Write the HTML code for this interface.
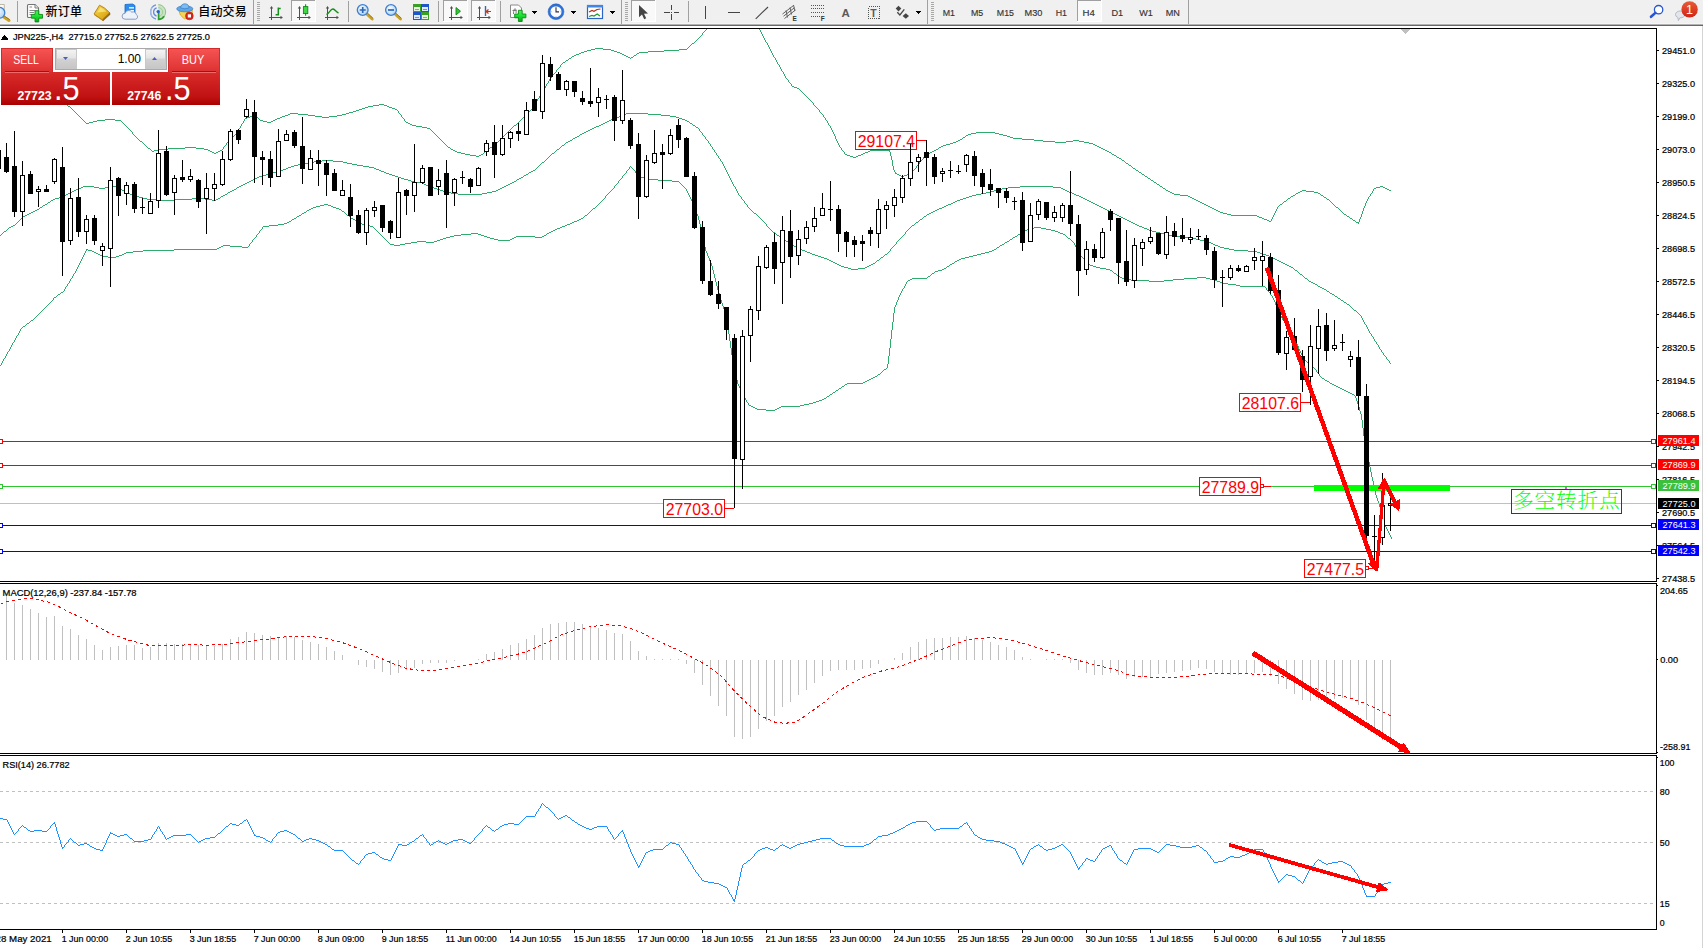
<!DOCTYPE html>
<html><head><meta charset="utf-8"><title>JPN225 H4</title>
<style>
html,body{margin:0;padding:0;background:#fff;}
body{width:1703px;height:948px;overflow:hidden;position:relative;}
svg{position:absolute;left:0;top:0;display:block;}
text{font-family:"Liberation Sans","Noto Sans CJK SC",sans-serif;}
.s{font-size:9.33px;fill:#000;stroke:#000;stroke-width:0.22px;}
.tf{font-size:9.6px;fill:#333;stroke:#333;stroke-width:0.15px;}
.cj{font-family:"Liberation Sans","Noto Sans CJK SC",sans-serif;font-size:12px;fill:#000;font-weight:500;}
.lb{font-size:15.7px;fill:#f00;}
.tag{font-size:9.33px;fill:#fff;}
.crisp{shape-rendering:crispEdges;}
</style></head><body>
<svg width="1703" height="948" viewBox="0 0 1703 948">
<defs>
<linearGradient id="gb1" x1="0" y1="0" x2="0" y2="1"><stop offset="0" stop-color="#f65454"/><stop offset="1" stop-color="#dd3030"/></linearGradient>
<linearGradient id="gb2" x1="0" y1="0" x2="0" y2="1"><stop offset="0" stop-color="#da2b2b"/><stop offset="0.75" stop-color="#c01212"/><stop offset="1" stop-color="#ab0000"/></linearGradient>
<linearGradient id="gsp" x1="0" y1="0" x2="0" y2="1"><stop offset="0" stop-color="#f4f4f4"/><stop offset="0.45" stop-color="#e4e4e4"/><stop offset="0.5" stop-color="#d2d2d2"/><stop offset="1" stop-color="#c6c6c6"/></linearGradient>
<linearGradient id="gbadge" x1="0" y1="0" x2="0" y2="1"><stop offset="0" stop-color="#ea5a36"/><stop offset="1" stop-color="#d02416"/></linearGradient>
<linearGradient id="ggold" x1="0" y1="0" x2="1" y2="1"><stop offset="0" stop-color="#f6d348"/><stop offset="0.6" stop-color="#e3b422"/><stop offset="1" stop-color="#c28e0e"/></linearGradient>
<linearGradient id="gplus" x1="0" y1="0" x2="0" y2="1"><stop offset="0" stop-color="#52f05a"/><stop offset="0.5" stop-color="#16e030"/><stop offset="1" stop-color="#0aa81a"/></linearGradient>
<radialGradient id="glens" cx="0.4" cy="0.35" r="0.7"><stop offset="0" stop-color="#f4fbff"/><stop offset="1" stop-color="#a9d2f3"/></radialGradient>
<clipPath id="cpm"><rect x="0" y="29" width="1656" height="552"/></clipPath>
<clipPath id="cpmacd"><rect x="0" y="584" width="1656" height="170"/></clipPath>
<clipPath id="cprsi"><rect x="0" y="756" width="1656" height="173"/></clipPath>
</defs>
<rect x="0" y="0" width="1703" height="948" fill="#fff"/>

<g class="crisp">
<rect x="0" y="0" width="1703" height="23" fill="#f0f0f0"/>
<rect x="0" y="23" width="1703" height="1" fill="#f5f5f5"/>
<rect x="0" y="24" width="1703" height="1" fill="#b2b2b2"/>
<rect x="0" y="25" width="1703" height="1" fill="#686868"/>
<rect x="0" y="28" width="1657" height="1" fill="#000"/>
<rect x="1656" y="28" width="1" height="902" fill="#000"/>
<rect x="0" y="581" width="1657" height="1" fill="#000"/>
<rect x="0" y="583" width="1657" height="1" fill="#000"/>
<rect x="0" y="753" width="1657" height="1" fill="#000"/>
<rect x="0" y="755" width="1657" height="1" fill="#000"/>
<rect x="0" y="929" width="1657" height="1" fill="#000"/>
<rect x="1702" y="26" width="1" height="922" fill="#d4d4d4"/>
<rect x="1656" y="582" width="1" height="1" fill="#fff"/><rect x="1656" y="754" width="1" height="1" fill="#fff"/>
</g>
<g class="crisp">
<rect x="1657" y="50" width="2" height="1" fill="#000"/>
<rect x="1657" y="83" width="2" height="1" fill="#000"/>
<rect x="1657" y="116" width="2" height="1" fill="#000"/>
<rect x="1657" y="149" width="2" height="1" fill="#000"/>
<rect x="1657" y="182" width="2" height="1" fill="#000"/>
<rect x="1657" y="215" width="2" height="1" fill="#000"/>
<rect x="1657" y="248" width="2" height="1" fill="#000"/>
<rect x="1657" y="281" width="2" height="1" fill="#000"/>
<rect x="1657" y="314" width="2" height="1" fill="#000"/>
<rect x="1657" y="347" width="2" height="1" fill="#000"/>
<rect x="1657" y="380" width="2" height="1" fill="#000"/>
<rect x="1657" y="413" width="2" height="1" fill="#000"/>
<rect x="1657" y="446" width="2" height="1" fill="#000"/>
<rect x="1657" y="479" width="2" height="1" fill="#000"/>
<rect x="1657" y="512" width="2" height="1" fill="#000"/>
<rect x="1657" y="545" width="2" height="1" fill="#000"/>
<rect x="1657" y="578" width="2" height="1" fill="#000"/>
</g>
<text class="s" x="1662" y="53.6" textLength="33" lengthAdjust="spacingAndGlyphs">29451.0</text>
<text class="s" x="1662" y="86.6" textLength="33" lengthAdjust="spacingAndGlyphs">29325.0</text>
<text class="s" x="1662" y="119.6" textLength="33" lengthAdjust="spacingAndGlyphs">29199.0</text>
<text class="s" x="1662" y="152.6" textLength="33" lengthAdjust="spacingAndGlyphs">29073.0</text>
<text class="s" x="1662" y="185.6" textLength="33" lengthAdjust="spacingAndGlyphs">28950.5</text>
<text class="s" x="1662" y="218.6" textLength="33" lengthAdjust="spacingAndGlyphs">28824.5</text>
<text class="s" x="1662" y="251.6" textLength="33" lengthAdjust="spacingAndGlyphs">28698.5</text>
<text class="s" x="1662" y="284.6" textLength="33" lengthAdjust="spacingAndGlyphs">28572.5</text>
<text class="s" x="1662" y="317.6" textLength="33" lengthAdjust="spacingAndGlyphs">28446.5</text>
<text class="s" x="1662" y="350.6" textLength="33" lengthAdjust="spacingAndGlyphs">28320.5</text>
<text class="s" x="1662" y="383.6" textLength="33" lengthAdjust="spacingAndGlyphs">28194.5</text>
<text class="s" x="1662" y="416.6" textLength="33" lengthAdjust="spacingAndGlyphs">28068.5</text>
<text class="s" x="1662" y="449.6" textLength="33" lengthAdjust="spacingAndGlyphs">27942.5</text>
<text class="s" x="1662" y="482.6" textLength="33" lengthAdjust="spacingAndGlyphs">27816.5</text>
<text class="s" x="1662" y="515.6" textLength="33" lengthAdjust="spacingAndGlyphs">27690.5</text>
<text class="s" x="1662" y="548.6" textLength="33" lengthAdjust="spacingAndGlyphs">27564.5</text>
<text class="s" x="1662" y="581.6" textLength="33" lengthAdjust="spacingAndGlyphs">27438.5</text>
<g clip-path="url(#cpm)">
<g class="crisp" fill="#30ab6e">
<path d="M290 113h8v1h-8zM346 113h3v1h-3zM1231 215h26v1h-26zM97 120h8v1h-8zM115 120h6v1h-6zM260 120h3v1h-3zM273 120h2v1h-2zM584 51h3v1h-3zM614 51h3v1h-3zM648 51h16v1h-16zM158 149h10v1h-10zM204 149h4v1h-4zM451 149h2v1h-2zM936 149h2v1h-2zM1103 149h2v1h-2zM1376 187h4v1h-4zM1383 187h2v1h-2zM61 101h2v1h-2zM356 110h3v1h-3zM966 135h2v1h-2zM1003 135h4v1h-4zM1007 136h3v1h-3zM140 141h2v1h-2zM956 141h2v1h-2zM1043 141h12v1h-12zM1066 141h7v1h-7zM1079 141h5v1h-5zM154 150h4v1h-4zM208 150h2v1h-2zM220 150h2v1h-2zM453 150h2v1h-2zM870 150h20v1h-20zM934 150h2v1h-2zM1105 150h2v1h-2zM359 109h3v1h-3zM395 109h2v1h-2zM1267 220h2v1h-2zM1353 220h2v1h-2zM1216 210h2v1h-2zM950 143h3v1h-3zM1089 143h4v1h-4zM976 132h19v1h-19zM901 176h3v1h-3zM1145 176h2v1h-2zM1139 172h2v1h-2zM288 114h2v1h-2zM298 114h10v1h-10zM342 114h4v1h-4zM628 57h2v1h-2zM631 57h2v1h-2zM579 53h2v1h-2zM620 53h2v1h-2zM637 53h2v1h-2zM1160 186h2v1h-2zM1380 186h3v1h-3zM1013 138h9v1h-9zM587 50h4v1h-4zM611 50h3v1h-3zM664 50h15v1h-15zM470 155h6v1h-6zM479 155h2v1h-2zM847 155h3v1h-3zM858 155h3v1h-3zM1114 155h2v1h-2zM968 134h3v1h-3zM999 134h4v1h-4zM68 106h2v1h-2zM368 106h5v1h-5zM387 106h2v1h-2zM953 142h3v1h-3zM1055 142h11v1h-11zM1084 142h5v1h-5zM148 148h2v1h-2zM168 148h17v1h-17zM196 148h8v1h-8zM1101 148h2v1h-2zM1126 163h2v1h-2zM1180 195h8v1h-8zM1293 195h2v1h-2zM1321 195h2v1h-2zM941 146h2v1h-2zM1097 146h2v1h-2zM566 60h2v1h-2zM185 147h11v1h-11zM448 147h2v1h-2zM490 147h2v1h-2zM939 147h2v1h-2zM1099 147h2v1h-2zM563 62h2v1h-2zM476 156h3v1h-3zM850 156h3v1h-3zM856 156h2v1h-2zM591 49h4v1h-4zM603 49h8v1h-8zM679 49h8v1h-8zM44 89h2v1h-2zM958 140h2v1h-2zM1034 140h9v1h-9zM1073 140h6v1h-6zM581 52h3v1h-3zM617 52h3v1h-3zM639 52h9v1h-9zM247 117h3v1h-3zM280 117h2v1h-2zM322 117h7v1h-7zM1136 170h2v1h-2zM86 123h3v1h-3zM408 123h2v1h-2zM250 116h4v1h-4zM282 116h3v1h-3zM315 116h7v1h-7zM329 116h8v1h-8zM412 125h4v1h-4zM514 125h2v1h-2zM960 139h2v1h-2zM1022 139h12v1h-12zM1174 194h6v1h-6zM212 152h2v1h-2zM216 152h2v1h-2zM457 152h4v1h-4zM865 152h3v1h-3zM930 152h2v1h-2zM1109 152h2v1h-2zM152 151h2v1h-2zM210 151h2v1h-2zM218 151h2v1h-2zM455 151h2v1h-2zM485 151h2v1h-2zM868 151h2v1h-2zM932 151h2v1h-2zM1107 151h2v1h-2zM416 126h6v1h-6zM89 122h4v1h-4zM267 122h4v1h-4zM406 122h2v1h-2zM1154 182h2v1h-2zM40 86h2v1h-2zM792 86h2v1h-2zM1129 165h2v1h-2zM373 105h6v1h-6zM384 105h3v1h-3zM1214 209h2v1h-2zM943 145h3v1h-3zM1095 145h2v1h-2zM353 111h3v1h-3zM1259 217h3v1h-3zM1194 199h2v1h-2zM1327 199h2v1h-2zM899 175h2v1h-2zM904 175h3v1h-3zM93 121h4v1h-4zM263 121h4v1h-4zM271 121h2v1h-2zM65 104h2v1h-2zM379 104h5v1h-5zM36 83h2v1h-2zM1223 213h4v1h-4zM853 157h3v1h-3zM1117 157h2v1h-2zM365 107h3v1h-3zM389 107h3v1h-3zM1210 207h2v1h-2zM1336 207h2v1h-2zM1202 203h2v1h-2zM245 118h2v1h-2zM277 118h3v1h-3zM1200 202h2v1h-2zM362 108h3v1h-3zM392 108h3v1h-3zM1166 190h2v1h-2zM1302 190h4v1h-4zM1389 190h2v1h-2zM1387 189h2v1h-2zM32 80h2v1h-2zM963 137h2v1h-2zM1010 137h3v1h-3zM1119 158h2v1h-2zM572 56h2v1h-2zM626 56h2v1h-2zM410 124h2v1h-2zM1168 191h2v1h-2zM1300 191h2v1h-2zM1306 191h8v1h-8zM971 133h5v1h-5zM995 133h4v1h-4zM349 112h4v1h-4zM1133 168h2v1h-2zM595 48h8v1h-8zM1356 222h3v1h-3zM1212 208h2v1h-2zM1257 216h2v1h-2zM1347 216h2v1h-2zM897 174h2v1h-2zM907 174h2v1h-2zM1142 174h2v1h-2zM797 88h2v1h-2zM465 154h5v1h-5zM481 154h2v1h-2zM845 154h2v1h-2zM861 154h2v1h-2zM926 154h2v1h-2zM1112 154h2v1h-2zM574 55h2v1h-2zM624 55h2v1h-2zM634 55h2v1h-2zM1148 178h2v1h-2zM1206 205h2v1h-2zM911 171h2v1h-2zM1262 218h2v1h-2zM1350 218h2v1h-2zM1170 192h2v1h-2zM1298 192h2v1h-2zM1314 192h4v1h-4zM569 58h2v1h-2zM427 128h3v1h-3zM1192 198h2v1h-2zM1288 198h2v1h-2zM254 115h2v1h-2zM285 115h3v1h-3zM308 115h7v1h-7zM337 115h5v1h-5zM48 92h2v1h-2zM1122 160h2v1h-2zM1198 201h2v1h-2zM1284 201h2v1h-2zM1157 184h2v1h-2zM422 127h5v1h-5zM494 144h2v1h-2zM946 144h4v1h-4zM1093 144h2v1h-2zM895 173h2v1h-2zM1218 211h2v1h-2zM58 99h2v1h-2zM1220 212h3v1h-3zM1204 204h2v1h-2zM1280 204h2v1h-2zM1188 196h2v1h-2zM1291 196h2v1h-2zM1264 219h3v1h-3zM1190 197h2v1h-2zM1324 197h2v1h-2zM214 153h2v1h-2zM461 153h4v1h-4zM863 153h2v1h-2zM928 153h2v1h-2zM105 119h10v1h-10zM275 119h2v1h-2zM1172 193h2v1h-2zM1296 193h2v1h-2zM1318 193h2v1h-2zM1196 200h2v1h-2zM1151 180h2v1h-2zM55 97h2v1h-2zM51 94h2v1h-2zM576 54h3v1h-3zM622 54h2v1h-2zM1208 206h2v1h-2zM1269 221h2v1h-2zM794 87h3v1h-3zM692 43h2v1h-2zM1227 214h4v1h-4zM1344 214h2v1h-2zM1163 188h2v1h-2zM1374 188h2v1h-2zM1385 188h2v1h-2zM1361 214h1v3h-1zM1373 189h1v2h-1zM549 79h1v2h-1zM892 160h1v6h-1zM829 125h1v1h-1zM126 126h1v1h-1zM762 34h1v2h-1zM914 169h1v1h-1zM1275 211h1v2h-1zM520 120h1v1h-1zM132 132h1v2h-1zM763 36h1v2h-1zM556 70h1v2h-1zM436 135h1v1h-1zM133 134h1v1h-1zM513 126h1v1h-1zM73 110h1v1h-1zM437 136h1v1h-1zM1369 196h1v1h-1zM545 86h1v2h-1zM1338 208h1v1h-1zM243 121h1v2h-1zM1153 181h1v1h-1zM922 159h1v1h-1zM633 56h1v1h-1zM57 98h1v1h-1zM791 84h1v2h-1zM1339 209h1v1h-1zM1362 211h1v3h-1zM223 147h1v2h-1zM151 150h1v1h-1zM529 111h1v1h-1zM552 75h1v2h-1zM80 117h1v1h-1zM824 117h1v1h-1zM832 130h1v2h-1zM444 143h1v1h-1zM938 148h1v1h-1zM1365 203h1v3h-1zM125 125h1v1h-1zM39 85h1v1h-1zM769 47h1v2h-1zM806 96h1v1h-1zM239 128h1v1h-1zM825 118h1v2h-1zM72 109h1v1h-1zM828 123h1v2h-1zM759 29h1v1h-1zM399 113h1v1h-1zM891 156h1v4h-1zM1131 166h1v1h-1zM1150 179h1v1h-1zM231 138h1v1h-1zM1323 196h1v1h-1zM517 123h1v1h-1zM813 103h1v2h-1zM702 33h1v2h-1zM705 30h1v1h-1zM895 172h1v1h-1zM835 136h1v3h-1zM1274 213h1v2h-1zM1349 217h1v1h-1zM501 138h1v1h-1zM35 82h1v1h-1zM831 128h1v2h-1zM443 142h1v1h-1zM38 84h1v1h-1zM488 149h1v1h-1zM1368 197h1v2h-1zM1334 205h1v1h-1zM492 146h1v1h-1zM398 111h1v2h-1zM53 95h1v1h-1zM539 96h1v2h-1zM524 116h1v1h-1zM1346 215h1v1h-1zM1141 173h1v1h-1zM571 57h1v1h-1zM560 65h1v2h-1zM147 147h1v1h-1zM1360 217h1v2h-1zM402 117h1v1h-1zM1372 191h1v2h-1zM548 81h1v2h-1zM150 149h1v1h-1zM79 116h1v1h-1zM258 118h1v1h-1zM543 89h1v2h-1zM834 134h1v2h-1zM226 143h1v2h-1zM508 131h1v1h-1zM555 72h1v1h-1zM535 103h1v1h-1zM558 68h1v1h-1zM827 121h1v2h-1zM909 173h1v1h-1zM697 39h1v1h-1zM431 130h1v1h-1zM764 38h1v2h-1zM761 32h1v2h-1zM432 131h1v1h-1zM496 143h1v1h-1zM894 170h1v2h-1zM30 78h1v1h-1zM257 117h1v1h-1zM146 146h1v1h-1zM890 152h1v4h-1zM135 136h1v1h-1zM34 81h1v1h-1zM450 148h1v1h-1zM838 143h1v2h-1zM816 107h1v1h-1zM921 160h1v1h-1zM64 103h1v1h-1zM67 105h1v1h-1zM222 149h1v1h-1zM801 91h1v1h-1zM830 126h1v2h-1zM913 170h1v1h-1zM823 115h1v2h-1zM916 166h1v2h-1zM826 120h1v1h-1zM519 121h1v1h-1zM127 127h1v1h-1zM1159 185h1v1h-1zM808 98h1v1h-1zM242 123h1v1h-1zM1273 215h1v2h-1zM1359 219h1v3h-1zM1371 193h1v1h-1zM503 136h1v1h-1zM401 115h1v2h-1zM893 166h1v4h-1zM688 47h1v1h-1zM542 91h1v2h-1zM924 156h1v1h-1zM841 148h1v2h-1zM134 135h1v1h-1zM531 109h1v1h-1zM63 102h1v1h-1zM1295 194h1v1h-1zM438 137h1v1h-1zM238 129h1v2h-1zM786 78h1v1h-1zM1367 199h1v2h-1zM439 138h1v1h-1zM546 84h1v2h-1zM1340 210h1v1h-1zM483 153h1v1h-1zM538 98h1v1h-1zM233 136h1v1h-1zM1329 200h1v1h-1zM1341 211h1v1h-1zM487 150h1v1h-1zM445 144h1v1h-1zM1330 201h1v1h-1zM446 145h1v1h-1zM1355 221h1v1h-1zM704 31h1v1h-1zM534 104h1v2h-1zM760 30h1v2h-1zM400 114h1v1h-1zM74 111h1v1h-1zM1132 167h1v1h-1zM837 141h1v2h-1zM404 119h1v2h-1zM699 37h1v1h-1zM225 145h1v1h-1zM782 71h1v1h-1zM554 73h1v1h-1zM498 141h1v1h-1zM919 162h1v2h-1zM81 118h1v1h-1zM775 58h1v2h-1zM526 114h1v1h-1zM562 63h1v1h-1zM1335 206h1v1h-1zM510 129h1v1h-1zM785 76h1v2h-1zM54 96h1v1h-1zM228 141h1v1h-1zM836 139h1v2h-1zM557 69h1v1h-1zM537 99h1v2h-1zM840 147h1v1h-1zM781 69h1v2h-1zM778 64h1v1h-1zM771 51h1v2h-1zM774 57h1v1h-1zM803 93h1v1h-1zM541 93h1v1h-1zM690 45h1v1h-1zM1363 208h1v3h-1zM533 106h1v2h-1zM630 58h1v1h-1zM1128 164h1v1h-1zM804 94h1v1h-1zM1147 177h1v1h-1zM694 42h1v1h-1zM502 137h1v1h-1zM923 157h1v2h-1zM1278 206h1v1h-1zM839 145h1v2h-1zM433 132h1v1h-1zM687 48h1v1h-1zM403 118h1v1h-1zM434 133h1v1h-1zM915 168h1v1h-1zM784 74h1v2h-1zM235 134h1v1h-1zM1366 201h1v2h-1zM918 164h1v1h-1zM811 101h1v1h-1zM521 119h1v1h-1zM259 119h1v1h-1zM777 62h1v2h-1zM817 108h1v1h-1zM122 122h1v1h-1zM788 80h1v2h-1zM440 139h1v1h-1zM137 138h1v1h-1zM889 151h1v1h-1zM818 109h1v1h-1zM802 92h1v1h-1zM1370 194h1v2h-1zM505 134h1v1h-1zM1124 161h1v1h-1zM232 137h1v1h-1zM441 140h1v1h-1zM770 49h1v2h-1zM1320 194h1v1h-1zM47 91h1v1h-1zM1165 189h1v1h-1zM1342 212h1v1h-1zM50 93h1v1h-1zM1343 213h1v1h-1zM544 88h1v1h-1zM1282 203h1v1h-1zM31 79h1v1h-1zM809 99h1v1h-1zM1286 200h1v1h-1zM810 100h1v1h-1zM136 137h1v1h-1zM780 67h1v2h-1zM76 113h1v1h-1zM528 112h1v1h-1zM783 72h1v2h-1zM121 121h1v1h-1zM773 55h1v2h-1zM540 94h1v2h-1zM843 151h1v1h-1zM776 60h1v2h-1zM568 59h1v1h-1zM1116 156h1v1h-1zM512 127h1v1h-1zM706 29h1v1h-1zM1138 171h1v1h-1zM128 128h1v1h-1zM516 124h1v1h-1zM536 101h1v2h-1zM965 136h1v1h-1zM1331 202h1v1h-1zM129 129h1v1h-1zM701 35h1v1h-1zM447 146h1v1h-1zM842 150h1v1h-1zM636 54h1v1h-1zM227 142h1v1h-1zM500 139h1v1h-1zM489 148h1v1h-1zM75 112h1v1h-1zM779 65h1v2h-1zM787 79h1v1h-1zM493 145h1v1h-1zM551 77h1v1h-1zM46 90h1v1h-1zM772 53h1v2h-1zM1277 207h1v2h-1zM820 112h1v1h-1zM82 119h1v1h-1zM1156 183h1v1h-1zM60 100h1v1h-1zM765 40h1v2h-1zM83 120h1v1h-1zM523 117h1v1h-1zM230 139h1v1h-1zM143 143h1v1h-1zM559 67h1v1h-1zM1111 153h1v1h-1zM910 172h1v1h-1zM507 132h1v1h-1zM405 121h1v1h-1zM435 134h1v1h-1zM1364 206h1v2h-1zM42 87h1v1h-1zM241 124h1v2h-1zM1272 217h1v2h-1zM819 110h1v2h-1zM1326 198h1v1h-1zM696 40h1v1h-1zM504 135h1v1h-1zM139 140h1v1h-1zM689 46h1v1h-1zM1352 219h1v1h-1zM142 142h1v1h-1zM237 131h1v2h-1zM805 95h1v1h-1zM917 165h1v1h-1zM547 83h1v1h-1zM1276 209h1v2h-1zM234 135h1v1h-1zM812 102h1v1h-1zM790 83h1v1h-1zM1125 162h1v1h-1zM123 123h1v1h-1zM925 155h1v1h-1zM511 128h1v1h-1zM124 124h1v1h-1zM768 45h1v2h-1zM442 141h1v1h-1zM920 161h1v1h-1zM530 110h1v1h-1zM70 107h1v1h-1zM484 152h1v1h-1zM527 113h1v1h-1zM71 108h1v1h-1zM499 140h1v1h-1zM844 152h1v2h-1zM1271 219h1v2h-1zM1333 204h1v1h-1zM131 131h1v1h-1zM789 82h1v1h-1zM1162 187h1v1h-1zM138 139h1v1h-1zM518 122h1v1h-1zM244 119h1v2h-1zM78 115h1v1h-1zM1144 175h1v1h-1zM833 132h1v2h-1zM700 36h1v1h-1zM703 32h1v1h-1zM229 140h1v1h-1zM767 43h1v2h-1zM240 126h1v2h-1zM85 122h1v1h-1zM130 130h1v1h-1zM1290 197h1v1h-1zM224 146h1v1h-1zM506 133h1v1h-1zM1121 159h1v1h-1zM550 78h1v1h-1zM77 114h1v1h-1zM256 116h1v1h-1zM691 44h1v1h-1zM1279 205h1v1h-1zM397 110h1v1h-1zM1283 202h1v1h-1zM525 115h1v1h-1zM815 106h1v1h-1zM821 113h1v1h-1zM800 90h1v1h-1zM561 64h1v1h-1zM822 114h1v1h-1zM509 130h1v1h-1zM236 133h1v1h-1zM1332 203h1v1h-1zM565 61h1v1h-1zM144 144h1v1h-1zM553 74h1v1h-1zM430 129h1v1h-1zM807 97h1v1h-1zM698 38h1v1h-1zM145 145h1v1h-1zM43 88h1v1h-1zM962 138h1v1h-1zM695 41h1v1h-1zM799 89h1v1h-1zM497 142h1v1h-1zM1358 223h1v1h-1zM814 105h1v1h-1zM1287 199h1v1h-1zM1135 169h1v1h-1zM532 108h1v1h-1zM522 118h1v1h-1zM766 42h1v1h-1zM84 121h1v1h-1z"/>
<path d="M624 114h2v1h-2zM648 114h13v1h-13zM802 250h3v1h-3zM1234 250h14v1h-14zM83 186h11v1h-11zM111 186h5v1h-5zM239 186h2v1h-2zM429 186h2v1h-2zM504 186h2v1h-2zM1020 186h33v1h-33zM1344 302h2v1h-2zM245 183h2v1h-2zM422 183h2v1h-2zM510 183h2v1h-2zM247 182h2v1h-2zM415 182h7v1h-7zM512 182h2v1h-2zM944 206h2v1h-2zM1099 206h2v1h-2zM48 202h2v1h-2zM953 202h2v1h-2zM1091 202h2v1h-2zM55 198h4v1h-4zM143 198h4v1h-4zM192 198h13v1h-13zM218 198h2v1h-2zM963 198h3v1h-3zM1083 198h2v1h-2zM72 191h2v1h-2zM124 191h2v1h-2zM230 191h2v1h-2zM443 191h3v1h-3zM492 191h4v1h-4zM990 191h4v1h-4zM1067 191h2v1h-2zM9 227h2v1h-2zM1142 227h2v1h-2zM1309 281h2v1h-2zM626 113h22v1h-22zM1177 236h7v1h-7zM1164 234h5v1h-5zM277 171h3v1h-3zM381 171h3v1h-3zM531 171h2v1h-2zM812 254h3v1h-3zM885 254h2v1h-2zM1263 254h3v1h-3zM603 123h2v1h-2zM690 123h2v1h-2zM37 209h2v1h-2zM937 209h2v1h-2zM1105 209h2v1h-2zM773 232h2v1h-2zM1156 232h4v1h-4zM951 203h2v1h-2zM1093 203h2v1h-2zM798 248h2v1h-2zM1224 248h5v1h-5zM53 199h2v1h-2zM147 199h10v1h-10zM174 199h18v1h-18zM205 199h7v1h-7zM216 199h2v1h-2zM960 199h3v1h-3zM1085 199h2v1h-2zM64 195h2v1h-2zM132 195h3v1h-3zM223 195h2v1h-2zM972 195h4v1h-4zM1076 195h3v1h-3zM1311 282h2v1h-2zM835 263h2v1h-2zM873 263h2v1h-2zM1283 263h2v1h-2zM1184 237h7v1h-7zM303 163h5v1h-5zM347 163h5v1h-5zM601 124h2v1h-2zM314 161h8v1h-8zM333 161h10v1h-10zM616 117h3v1h-3zM676 117h3v1h-3zM51 200h2v1h-2zM157 200h17v1h-17zM212 200h4v1h-4zM957 200h3v1h-3zM1087 200h2v1h-2zM74 190h2v1h-2zM122 190h2v1h-2zM232 190h2v1h-2zM440 190h3v1h-3zM496 190h2v1h-2zM994 190h4v1h-4zM1065 190h2v1h-2zM291 166h3v1h-3zM363 166h6v1h-6zM786 241h2v1h-2zM1204 241h4v1h-4zM1144 228h3v1h-3zM619 116h2v1h-2zM670 116h6v1h-6zM78 188h3v1h-3zM99 188h6v1h-6zM118 188h2v1h-2zM434 188h3v1h-3zM500 188h2v1h-2zM1002 188h6v1h-6zM1061 188h2v1h-2zM288 167h3v1h-3zM369 167h5v1h-5zM796 247h2v1h-2zM1220 247h4v1h-4zM68 193h2v1h-2zM128 193h2v1h-2zM451 193h7v1h-7zM482 193h5v1h-5zM981 193h5v1h-5zM1072 193h2v1h-2zM13 225h2v1h-2zM912 225h2v1h-2zM1137 225h2v1h-2zM31 212h2v1h-2zM931 212h2v1h-2zM1111 212h2v1h-2zM614 118h2v1h-2zM679 118h3v1h-3zM1338 298h2v1h-2zM35 210h2v1h-2zM935 210h2v1h-2zM1107 210h2v1h-2zM584 132h2v1h-2zM59 197h3v1h-3zM139 197h4v1h-4zM966 197h3v1h-3zM1081 197h2v1h-2zM298 164h5v1h-5zM352 164h5v1h-5zM280 170h3v1h-3zM379 170h2v1h-2zM533 170h2v1h-2zM1305 278h2v1h-2zM1160 233h4v1h-4zM249 181h2v1h-2zM411 181h4v1h-4zM514 181h2v1h-2zM794 246h2v1h-2zM1218 246h2v1h-2zM831 261h2v1h-2zM1279 261h2v1h-2zM821 257h3v1h-3zM881 257h2v1h-2zM1271 257h2v1h-2zM568 141h2v1h-2zM81 187h2v1h-2zM94 187h5v1h-5zM105 187h6v1h-6zM116 187h2v1h-2zM237 187h2v1h-2zM431 187h3v1h-3zM502 187h2v1h-2zM1008 187h12v1h-12zM1053 187h8v1h-8zM322 160h11v1h-11zM920 219h2v1h-2zM1125 219h2v1h-2zM1196 239h4v1h-4zM805 251h2v1h-2zM1248 251h9v1h-9zM837 264h2v1h-2zM871 264h2v1h-2zM1285 264h2v1h-2zM70 192h2v1h-2zM126 192h2v1h-2zM228 192h2v1h-2zM446 192h5v1h-5zM487 192h5v1h-5zM986 192h4v1h-4zM1069 192h3v1h-3zM586 131h2v1h-2zM29 213h2v1h-2zM754 213h2v1h-2zM929 213h2v1h-2zM1113 213h2v1h-2zM62 196h2v1h-2zM135 196h4v1h-4zM221 196h2v1h-2zM969 196h3v1h-3zM1079 196h2v1h-2zM1327 291h2v1h-2zM605 122h2v1h-2zM789 243h2v1h-2zM1211 243h2v1h-2zM777 235h2v1h-2zM1169 235h8v1h-8zM800 249h2v1h-2zM1229 249h5v1h-5zM1300 274h2v1h-2zM1147 229h2v1h-2zM269 173h4v1h-4zM386 173h3v1h-3zM1149 230h3v1h-3zM851 269h7v1h-7zM262 175h4v1h-4zM392 175h3v1h-3zM524 175h2v1h-2zM824 258h3v1h-3zM1273 258h2v1h-2zM1129 221h2v1h-2zM259 176h3v1h-3zM395 176h3v1h-3zM841 266h3v1h-3zM867 266h2v1h-2zM1289 266h2v1h-2zM1135 224h2v1h-2zM833 262h2v1h-2zM1281 262h2v1h-2zM255 178h2v1h-2zM401 178h3v1h-3zM519 178h2v1h-2zM1123 218h2v1h-2zM283 169h3v1h-3zM376 169h3v1h-3zM818 256h3v1h-3zM1269 256h2v1h-2zM43 205h2v1h-2zM946 205h2v1h-2zM1097 205h2v1h-2zM955 201h2v1h-2zM1089 201h2v1h-2zM1315 284h2v1h-2zM784 240h2v1h-2zM1200 240h4v1h-4zM594 127h2v1h-2zM696 127h2v1h-2zM66 194h2v1h-2zM130 194h2v1h-2zM225 194h2v1h-2zM458 194h24v1h-24zM976 194h5v1h-5zM1074 194h2v1h-2zM1121 217h2v1h-2zM25 215h2v1h-2zM1117 215h2v1h-2zM575 137h2v1h-2zM552 153h2v1h-2zM40 207h2v1h-2zM942 207h2v1h-2zM1101 207h2v1h-2zM611 119h3v1h-3zM682 119h3v1h-3zM807 252h3v1h-3zM1257 252h3v1h-3zM1215 245h3v1h-3zM829 260h2v1h-2zM877 260h2v1h-2zM1277 260h2v1h-2zM781 238h2v1h-2zM1191 238h5v1h-5zM577 136h2v1h-2zM251 180h2v1h-2zM408 180h3v1h-3zM844 267h4v1h-4zM865 267h2v1h-2zM1291 267h2v1h-2zM609 120h2v1h-2zM685 120h2v1h-2zM76 189h2v1h-2zM120 189h2v1h-2zM234 189h2v1h-2zM437 189h3v1h-3zM498 189h2v1h-2zM998 189h4v1h-4zM1063 189h2v1h-2zM557 149h2v1h-2zM273 172h4v1h-4zM384 172h2v1h-2zM529 172h2v1h-2zM590 129h2v1h-2zM621 115h3v1h-3zM661 115h9v1h-9zM607 121h2v1h-2zM687 121h2v1h-2zM45 204h2v1h-2zM948 204h3v1h-3zM1095 204h2v1h-2zM1313 283h2v1h-2zM599 125h2v1h-2zM693 125h2v1h-2zM266 174h3v1h-3zM389 174h3v1h-3zM526 174h2v1h-2zM596 126h3v1h-3zM253 179h2v1h-2zM404 179h4v1h-4zM517 179h2v1h-2zM827 259h2v1h-2zM1275 259h2v1h-2zM791 244h2v1h-2zM1213 244h2v1h-2zM815 255h3v1h-3zM1266 255h3v1h-3zM257 177h2v1h-2zM398 177h3v1h-3zM521 177h2v1h-2zM1330 293h2v1h-2zM810 253h2v1h-2zM1260 253h3v1h-3zM11 226h2v1h-2zM1139 226h3v1h-3zM286 168h2v1h-2zM374 168h2v1h-2zM1133 223h2v1h-2zM1127 220h2v1h-2zM241 185h2v1h-2zM426 185h3v1h-3zM506 185h2v1h-2zM1318 286h2v1h-2zM4 231h2v1h-2zM1152 231h4v1h-4zM566 142h2v1h-2zM839 265h2v1h-2zM869 265h2v1h-2zM1287 265h2v1h-2zM848 268h3v1h-3zM858 268h7v1h-7zM916 222h2v1h-2zM1131 222h2v1h-2zM27 214h2v1h-2zM927 214h2v1h-2zM1115 214h2v1h-2zM243 184h2v1h-2zM424 184h2v1h-2zM508 184h2v1h-2zM33 211h2v1h-2zM933 211h2v1h-2zM1109 211h2v1h-2zM588 130h2v1h-2zM23 216h2v1h-2zM924 216h2v1h-2zM1119 216h2v1h-2zM939 208h3v1h-3zM1103 208h2v1h-2zM592 128h2v1h-2zM580 134h2v1h-2zM308 162h6v1h-6zM343 162h4v1h-4zM542 162h2v1h-2zM1208 242h3v1h-3zM582 133h2v1h-2zM294 165h4v1h-4zM357 165h6v1h-6zM573 138h2v1h-2zM1322 288h2v1h-2zM562 145h2v1h-2zM1332 294h2v1h-2zM1347 304h2v1h-2zM1320 287h2v1h-2zM1341 300h2v1h-2zM1354 310h2v1h-2zM570 140h2v1h-2zM1295 270h2v1h-2zM1335 296h2v1h-2zM1324 289h2v1h-2zM1349 305h1v1h-1zM765 223h1v1h-1zM1371 334h1v2h-1zM701 132h1v1h-1zM1379 347h1v2h-1zM550 155h1v1h-1zM1388 360h1v1h-1zM555 151h1v1h-1zM718 156h1v2h-1zM556 150h1v1h-1zM710 144h1v2h-1zM895 244h1v1h-1zM732 182h1v2h-1zM761 219h1v1h-1zM1329 292h1v1h-1zM1302 275h1v1h-1zM756 214h1v1h-1zM919 220h1v1h-1zM1364 322h1v2h-1zM1372 336h1v1h-1zM565 143h1v1h-1zM548 157h1v1h-1zM723 164h1v2h-1zM554 152h1v1h-1zM1351 307h1v1h-1zM737 191h1v2h-1zM17 222h1v1h-1zM880 258h1v1h-1zM1369 331h1v2h-1zM1303 276h1v1h-1zM3 232h1v1h-1zM918 221h1v1h-1zM772 231h1v1h-1zM923 217h1v1h-1zM906 231h1v1h-1zM1377 344h1v1h-1zM1380 349h1v1h-1zM1368 329h1v2h-1zM730 178h1v2h-1zM768 227h1v1h-1zM541 163h1v1h-1zM15 224h1v1h-1zM16 223h1v1h-1zM879 259h1v1h-1zM779 236h1v1h-1zM1 234h1v1h-1zM741 197h1v2h-1zM2 233h1v1h-1zM7 229h1v1h-1zM750 209h1v1h-1zM905 232h1v2h-1zM1373 337h1v2h-1zM884 255h1v1h-1zM735 187h1v2h-1zM707 140h1v1h-1zM1381 350h1v2h-1zM540 164h1v1h-1zM763 221h1v1h-1zM780 237h1v1h-1zM883 256h1v1h-1zM901 237h1v1h-1zM692 124h1v1h-1zM1366 325h1v2h-1zM1386 357h1v2h-1zM1297 271h1v1h-1zM1378 345h1v2h-1zM759 217h1v1h-1zM731 180h1v2h-1zM1353 309h1v1h-1zM1346 303h1v1h-1zM1362 318h1v2h-1zM747 205h1v2h-1zM544 161h1v1h-1zM47 203h1v1h-1zM699 129h1v2h-1zM708 141h1v2h-1zM728 174h1v2h-1zM716 153h1v2h-1zM1334 295h1v1h-1zM738 193h1v2h-1zM1340 299h1v1h-1zM764 222h1v1h-1zM713 149h1v1h-1zM1387 359h1v1h-1zM724 166h1v2h-1zM760 218h1v1h-1zM1367 327h1v2h-1zM739 195h1v1h-1zM753 212h1v1h-1zM1375 341h1v1h-1zM748 207h1v1h-1zM726 170h1v2h-1zM714 150h1v2h-1zM560 147h1v1h-1zM740 196h1v1h-1zM717 155h1v1h-1zM766 224h1v2h-1zM749 208h1v1h-1zM220 197h1v1h-1zM702 133h1v2h-1zM897 241h1v1h-1zM572 139h1v1h-1zM1389 361h1v2h-1zM1383 353h1v2h-1zM559 148h1v1h-1zM564 144h1v1h-1zM733 184h1v2h-1zM705 137h1v2h-1zM227 193h1v1h-1zM722 162h1v2h-1zM579 135h1v1h-1zM922 218h1v1h-1zM8 228h1v1h-1zM736 189h1v2h-1zM893 246h1v1h-1zM744 201h1v2h-1zM1365 324h1v1h-1zM1376 342h1v2h-1zM1384 355h1v1h-1zM762 220h1v1h-1zM706 139h1v1h-1zM546 159h1v1h-1zM22 217h1v1h-1zM547 158h1v1h-1zM6 230h1v1h-1zM889 251h1v1h-1zM891 248h1v1h-1zM890 249h1v2h-1zM892 247h1v1h-1zM926 215h1v1h-1zM1361 316h1v2h-1zM1308 280h1v1h-1zM729 176h1v2h-1zM545 160h1v1h-1zM887 253h1v1h-1zM888 252h1v1h-1zM751 210h1v1h-1zM39 208h1v1h-1zM711 146h1v1h-1zM0 235h1v1h-1zM698 128h1v1h-1zM1385 356h1v1h-1zM727 172h1v2h-1zM1298 272h1v1h-1zM538 166h1v1h-1zM752 211h1v1h-1zM539 165h1v1h-1zM746 204h1v1h-1zM1317 285h1v1h-1zM715 152h1v1h-1zM1358 313h1v1h-1zM1299 273h1v1h-1zM536 168h1v1h-1zM537 167h1v1h-1zM1374 339h1v2h-1zM703 135h1v1h-1zM528 173h1v1h-1zM712 147h1v2h-1zM898 240h1v1h-1zM720 159h1v2h-1zM1363 320h1v2h-1zM775 233h1v1h-1zM1326 290h1v1h-1zM704 136h1v1h-1zM894 245h1v1h-1zM725 168h1v2h-1zM896 242h1v2h-1zM904 234h1v1h-1zM1359 314h1v1h-1zM1293 268h1v1h-1zM788 242h1v1h-1zM1360 315h1v1h-1zM1307 279h1v1h-1zM695 126h1v1h-1zM776 234h1v1h-1zM745 203h1v1h-1zM1356 311h1v1h-1zM783 239h1v1h-1zM689 122h1v1h-1zM1337 297h1v1h-1zM21 218h1v1h-1zM1343 301h1v1h-1zM910 227h1v1h-1zM911 226h1v1h-1zM236 188h1v1h-1zM1382 352h1v1h-1zM561 146h1v1h-1zM19 220h1v1h-1zM1357 312h1v1h-1zM551 154h1v1h-1zM1350 306h1v1h-1zM908 229h1v1h-1zM909 228h1v1h-1zM914 224h1v1h-1zM18 221h1v1h-1zM1370 333h1v1h-1zM50 201h1v1h-1zM549 156h1v1h-1zM907 230h1v1h-1zM875 262h1v1h-1zM876 261h1v1h-1zM42 206h1v1h-1zM793 245h1v1h-1zM767 226h1v1h-1zM1390 363h1v1h-1zM719 158h1v1h-1zM516 180h1v1h-1zM734 186h1v1h-1zM742 199h1v1h-1zM757 215h1v1h-1zM721 161h1v1h-1zM903 235h1v1h-1zM535 169h1v1h-1zM523 176h1v1h-1zM758 216h1v1h-1zM1304 277h1v1h-1zM1352 308h1v1h-1zM902 236h1v1h-1zM1294 269h1v1h-1zM700 131h1v1h-1zM743 200h1v1h-1zM709 143h1v1h-1zM769 228h1v1h-1zM900 238h1v1h-1zM770 229h1v1h-1zM20 219h1v1h-1zM899 239h1v1h-1zM915 223h1v1h-1zM771 230h1v1h-1z"/>
<path d="M1223 283h5v1h-5zM809 403h4v1h-4zM405 243h6v1h-6zM86 249h2v1h-2zM174 249h43v1h-43zM994 249h2v1h-2zM316 206h4v1h-4zM331 206h2v1h-2zM847 383h16v1h-16zM1330 383h2v1h-2zM417 241h9v1h-9zM434 241h3v1h-3zM1007 241h2v1h-2zM450 236h4v1h-4zM484 236h3v1h-3zM516 236h19v1h-19zM542 236h2v1h-2zM1015 236h2v1h-2zM944 268h2v1h-2zM1100 268h6v1h-6zM557 228h3v1h-3zM1029 228h5v1h-5zM1041 228h5v1h-5zM278 224h6v1h-6zM362 224h4v1h-4zM567 224h3v1h-3zM443 238h3v1h-3zM490 238h4v1h-4zM512 238h2v1h-2zM1068 238h2v1h-2zM1240 286h25v1h-25zM560 227h2v1h-2zM1034 227h7v1h-7zM320 205h4v1h-4zM328 205h3v1h-3zM1120 277h2v1h-2zM1197 277h9v1h-9zM649 179h9v1h-9zM88 250h4v1h-4zM143 250h31v1h-31zM992 250h2v1h-2zM31 320h2v1h-2zM446 237h4v1h-4zM487 237h3v1h-3zM514 237h2v1h-2zM535 237h7v1h-7zM1013 237h2v1h-2zM1149 281h15v1h-15zM1217 281h3v1h-3zM816 401h3v1h-3zM263 226h6v1h-6zM370 226h3v1h-3zM562 226h3v1h-3zM102 256h6v1h-6zM116 256h3v1h-3zM969 256h4v1h-4zM461 234h10v1h-10zM478 234h3v1h-3zM1018 234h2v1h-2zM1063 234h2v1h-2zM804 404h5v1h-5zM549 232h2v1h-2zM1021 232h2v1h-2zM1058 232h2v1h-2zM830 394h2v1h-2zM1352 394h2v1h-2zM672 181h7v1h-7zM54 297h2v1h-2zM836 390h2v1h-2zM1344 390h2v1h-2zM842 386h2v1h-2zM1336 386h2v1h-2zM757 409h9v1h-9zM775 409h2v1h-2zM749 405h2v1h-2zM800 405h4v1h-4zM92 251h2v1h-2zM133 251h10v1h-10zM989 251h3v1h-3zM910 279h2v1h-2zM1124 279h7v1h-7zM1173 279h11v1h-11zM1210 279h4v1h-4zM912 278h15v1h-15zM1122 278h2v1h-2zM1184 278h13v1h-13zM1206 278h4v1h-4zM819 400h3v1h-3zM751 406h2v1h-2zM781 406h19v1h-19zM863 382h2v1h-2zM454 235h7v1h-7zM481 235h3v1h-3zM544 235h2v1h-2zM935 271h3v1h-3zM219 247h2v1h-2zM242 247h6v1h-6zM997 247h2v1h-2zM292 219h2v1h-2zM353 219h2v1h-2zM579 219h2v1h-2zM839 388h2v1h-2zM1340 388h2v1h-2zM908 280h2v1h-2zM1131 280h18v1h-18zM1164 280h9v1h-9zM1214 280h3v1h-3zM58 294h2v1h-2zM869 379h2v1h-2zM294 218h2v1h-2zM351 218h2v1h-2zM581 218h2v1h-2zM287 222h2v1h-2zM358 222h2v1h-2zM572 222h2v1h-2zM551 231h2v1h-2zM1023 231h2v1h-2zM1055 231h3v1h-3zM959 259h2v1h-2zM390 244h4v1h-4zM400 244h5v1h-5zM1002 244h2v1h-2zM1338 387h2v1h-2zM950 264h2v1h-2zM1088 264h2v1h-2zM766 410h9v1h-9zM471 233h7v1h-7zM547 233h2v1h-2zM1060 233h3v1h-3zM813 402h3v1h-3zM108 257h8v1h-8zM965 257h4v1h-4zM100 255h2v1h-2zM119 255h3v1h-3zM973 255h4v1h-4zM223 245h7v1h-7zM394 245h6v1h-6zM1000 245h2v1h-2zM875 376h2v1h-2zM961 258h4v1h-4zM299 215h2v1h-2zM347 215h2v1h-2zM585 215h2v1h-2zM645 178h4v1h-4zM437 240h3v1h-3zM498 240h12v1h-12zM555 229h2v1h-2zM1027 229h2v1h-2zM1046 229h5v1h-5zM98 254h2v1h-2zM122 254h2v1h-2zM977 254h4v1h-4zM871 378h2v1h-2zM1322 378h2v1h-2zM221 246h2v1h-2zM230 246h12v1h-12zM324 204h4v1h-4zM411 242h6v1h-6zM426 242h8v1h-8zM1005 242h2v1h-2zM822 399h2v1h-2zM1334 385h2v1h-2zM61 292h2v1h-2zM304 212h2v1h-2zM311 208h2v1h-2zM336 208h3v1h-3zM593 208h2v1h-2zM269 225h9v1h-9zM366 225h4v1h-4zM565 225h2v1h-2zM873 377h2v1h-2zM440 239h3v1h-3zM494 239h4v1h-4zM510 239h2v1h-2zM1010 239h2v1h-2zM307 210h2v1h-2zM1350 393h2v1h-2zM309 209h2v1h-2zM339 209h2v1h-2zM1346 391h2v1h-2zM289 221h2v1h-2zM356 221h2v1h-2zM574 221h3v1h-3zM942 269h2v1h-2zM1106 269h4v1h-4zM938 270h4v1h-4zM1110 270h2v1h-2zM932 273h2v1h-2zM1114 273h2v1h-2zM23 326h2v1h-2zM947 266h2v1h-2zM1093 266h3v1h-3zM1228 284h8v1h-8zM658 180h14v1h-14zM1342 389h2v1h-2zM753 407h2v1h-2zM779 407h2v1h-2zM217 248h2v1h-2zM1117 275h2v1h-2zM313 207h3v1h-3zM333 207h3v1h-3zM553 230h2v1h-2zM1025 230h2v1h-2zM1051 230h4v1h-4zM1220 282h3v1h-3zM865 381h2v1h-2zM1327 381h2v1h-2zM1308 363h2v1h-2zM94 252h2v1h-2zM126 252h7v1h-7zM985 252h4v1h-4zM297 216h2v1h-2zM96 253h2v1h-2zM124 253h2v1h-2zM981 253h4v1h-4zM27 323h2v1h-2zM952 263h2v1h-2zM342 211h2v1h-2zM1090 265h3v1h-3zM284 223h3v1h-3zM360 223h2v1h-2zM570 223h2v1h-2zM884 369h2v1h-2zM928 276h2v1h-2zM867 380h2v1h-2zM1325 380h2v1h-2zM1236 285h4v1h-4zM827 396h2v1h-2zM845 384h2v1h-2zM1332 384h2v1h-2zM878 374h2v1h-2zM1096 267h4v1h-4zM833 392h2v1h-2zM1348 392h2v1h-2zM955 261h2v1h-2zM755 408h2v1h-2zM777 408h2v1h-2zM957 260h2v1h-2zM302 213h2v1h-2zM577 220h2v1h-2zM641 177h4v1h-4zM639 176h2v1h-2zM824 398h2v1h-2zM256 235h1v2h-1zM1369 462h1v5h-1zM891 330h1v9h-1zM68 283h1v1h-1zM930 275h1v1h-1zM1293 336h1v2h-1zM1370 467h1v5h-1zM622 176h1v2h-1zM700 224h1v5h-1zM1079 253h1v2h-1zM899 295h1v2h-1zM1278 309h1v3h-1zM1373 481h1v5h-1zM737 380h1v4h-1zM1286 324h1v2h-1zM703 238h1v5h-1zM731 348h1v7h-1zM1315 369h1v1h-1zM60 293h1v1h-1zM5 356h1v2h-1zM1366 448h1v5h-1zM711 263h1v3h-1zM890 339h1v9h-1zM696 211h1v3h-1zM72 276h1v2h-1zM590 211h1v1h-1zM614 186h1v2h-1zM724 309h1v4h-1zM714 274h1v4h-1zM64 289h1v2h-1zM381 235h1v1h-1zM1319 374h1v2h-1zM717 286h1v4h-1zM734 366h1v4h-1zM1300 351h1v2h-1zM583 217h1v1h-1zM949 265h1v1h-1zM1360 411h1v3h-1zM373 227h1v1h-1zM693 204h1v2h-1zM1301 353h1v2h-1zM1 363h1v2h-1zM720 296h1v4h-1zM728 327h1v7h-1zM9 349h1v2h-1zM1372 477h1v4h-1zM1363 428h1v8h-1zM625 173h1v1h-1zM934 272h1v1h-1zM1289 329h1v2h-1zM637 174h1v1h-1zM1376 495h1v3h-1zM1386 527h1v2h-1zM727 321h1v6h-1zM710 261h1v2h-1zM597 205h1v1h-1zM1362 420h1v8h-1zM617 183h1v1h-1zM346 214h1v1h-1zM1086 262h1v1h-1zM251 242h1v1h-1zM907 281h1v1h-1zM1379 504h1v3h-1zM75 271h1v2h-1zM730 341h1v7h-1zM713 270h1v4h-1zM1275 302h1v3h-1zM706 251h1v2h-1zM51 301h1v1h-1zM889 348h1v8h-1zM1368 457h1v5h-1zM1359 407h1v4h-1zM903 288h1v1h-1zM636 173h1v1h-1zM733 361h1v5h-1zM699 220h1v4h-1zM259 231h1v2h-1zM262 227h1v2h-1zM736 375h1v5h-1zM609 192h1v1h-1zM296 217h1v1h-1zM48 304h1v1h-1zM254 238h1v1h-1zM39 313h1v1h-1zM723 306h1v3h-1zM380 234h1v1h-1zM877 375h1v1h-1zM1071 240h1v1h-1zM1385 525h1v2h-1zM1356 398h1v3h-1zM881 372h1v1h-1zM1318 373h1v1h-1zM1329 382h1v1h-1zM894 307h1v6h-1zM1075 245h1v2h-1zM1303 357h1v2h-1zM1116 274h1v1h-1zM898 297h1v3h-1zM692 201h1v3h-1zM1371 472h1v5h-1zM601 201h1v1h-1zM387 241h1v1h-1zM1119 276h1v1h-1zM705 247h1v4h-1zM1267 290h1v1h-1zM888 356h1v8h-1zM1382 514h1v3h-1zM1365 443h1v5h-1zM1361 414h1v6h-1zM835 391h1v1h-1zM1358 404h1v3h-1zM1310 364h1v1h-1zM1375 491h1v4h-1zM79 263h1v2h-1zM719 293h1v3h-1zM709 258h1v3h-1zM1311 365h1v1h-1zM1078 251h1v2h-1zM729 334h1v7h-1zM739 386h1v2h-1zM1277 307h1v2h-1zM732 355h1v6h-1zM893 313h1v9h-1zM43 309h1v1h-1zM1299 349h1v2h-1zM1378 501h1v3h-1zM1302 355h1v2h-1zM716 282h1v4h-1zM1321 377h1v1h-1zM726 316h1v5h-1zM1066 236h1v1h-1zM681 184h1v1h-1zM1324 379h1v1h-1zM712 266h1v4h-1zM702 233h1v5h-1zM1381 510h1v4h-1zM1364 436h1v7h-1zM1067 237h1v1h-1zM635 171h1v2h-1zM698 216h1v4h-1zM592 209h1v1h-1zM715 278h1v4h-1zM743 395h1v2h-1zM1291 332h1v2h-1zM596 206h1v1h-1zM616 184h1v1h-1zM2 361h1v2h-1zM1077 249h1v2h-1zM46 306h1v1h-1zM897 300h1v2h-1zM1074 243h1v2h-1zM738 384h1v2h-1zM841 387h1v1h-1zM722 303h1v3h-1zM1305 360h1v1h-1zM611 190h1v1h-1zM85 251h1v2h-1zM694 206h1v3h-1zM1374 486h1v5h-1zM1298 346h1v3h-1zM1306 361h1v1h-1zM892 322h1v8h-1zM1266 288h1v2h-1zM624 174h1v1h-1zM65 287h1v2h-1zM725 313h1v3h-1zM34 318h1v1h-1zM374 228h1v1h-1zM1367 453h1v4h-1zM691 199h1v2h-1zM735 370h1v5h-1zM701 229h1v4h-1zM375 229h1v1h-1zM883 370h1v1h-1zM906 282h1v2h-1zM746 400h1v2h-1zM619 180h1v1h-1zM253 239h1v1h-1zM1080 255h1v1h-1zM1357 401h1v3h-1zM1017 235h1v1h-1zM603 199h1v1h-1zM1009 240h1v1h-1zM53 298h1v2h-1zM1081 256h1v1h-1zM1384 521h1v4h-1zM382 236h1v1h-1zM1320 376h1v1h-1zM708 256h1v2h-1zM80 261h1v2h-1zM587 214h1v1h-1zM1265 287h1v1h-1zM896 302h1v3h-1zM261 229h1v1h-1zM1276 305h1v2h-1zM50 302h1v1h-1zM41 311h1v1h-1zM704 243h1v4h-1zM627 170h1v1h-1zM887 364h1v4h-1zM742 393h1v2h-1zM291 220h1v1h-1zM638 175h1v1h-1zM880 373h1v1h-1zM1076 247h1v2h-1zM1312 366h1v1h-1zM1072 241h1v1h-1zM1313 367h1v1h-1zM21 328h1v1h-1zM1383 517h1v4h-1zM1073 242h1v1h-1zM25 325h1v1h-1zM57 295h1v1h-1zM630 166h1v1h-1zM1377 498h1v3h-1zM388 242h1v1h-1zM682 185h1v1h-1zM690 197h1v2h-1zM17 335h1v1h-1zM1273 298h1v2h-1zM631 167h1v1h-1zM84 253h1v2h-1zM745 398h1v2h-1zM389 243h1v1h-1zM683 186h1v1h-1zM954 262h1v1h-1zM1297 344h1v2h-1zM1391 537h1v2h-1zM1269 292h1v1h-1zM741 391h1v2h-1zM697 214h1v2h-1zM606 195h1v1h-1zM1287 326h1v2h-1zM45 307h1v1h-1zM13 342h1v1h-1zM927 277h1v1h-1zM895 305h1v2h-1zM36 316h1v1h-1zM718 290h1v3h-1zM707 253h1v3h-1zM1280 314h1v2h-1zM344 212h1v1h-1zM1283 320h1v1h-1zM1380 507h1v3h-1zM931 274h1v1h-1zM29 322h1v1h-1zM598 204h1v1h-1zM721 300h1v3h-1zM252 240h1v2h-1zM999 246h1v1h-1zM1268 291h1v1h-1zM33 319h1v1h-1zM591 210h1v1h-1zM946 267h1v1h-1zM618 181h1v2h-1zM1272 296h1v2h-1zM71 278h1v1h-1zM744 397h1v1h-1zM1390 535h1v2h-1zM748 403h1v2h-1zM377 231h1v1h-1zM1294 338h1v2h-1zM613 188h1v1h-1zM686 189h1v2h-1zM52 300h1v1h-1zM832 393h1v1h-1zM1113 272h1v1h-1zM301 214h1v1h-1zM626 171h1v2h-1zM67 284h1v2h-1zM629 167h1v2h-1zM1279 312h1v2h-1zM1083 258h1v1h-1zM16 336h1v2h-1zM83 255h1v2h-1zM621 178h1v1h-1zM882 371h1v1h-1zM255 237h1v1h-1zM40 312h1v1h-1zM1307 362h1v1h-1zM1296 342h1v2h-1zM886 368h1v1h-1zM20 329h1v2h-1zM689 195h1v2h-1zM1112 271h1v1h-1zM740 388h1v3h-1zM12 343h1v2h-1zM1271 295h1v1h-1zM250 243h1v1h-1zM376 230h1v1h-1zM4 358h1v1h-1zM1282 318h1v2h-1zM589 212h1v1h-1zM63 291h1v1h-1zM1355 396h1v2h-1zM902 289h1v2h-1zM1082 257h1v1h-1zM8 351h1v1h-1zM383 237h1v1h-1zM78 265h1v2h-1zM0 365h1v1h-1zM258 233h1v1h-1zM70 279h1v2h-1zM384 238h1v1h-1zM605 196h1v2h-1zM608 193h1v1h-1zM1274 300h1v2h-1zM47 305h1v1h-1zM632 168h1v1h-1zM1389 533h1v2h-1zM747 402h1v1h-1zM350 217h1v1h-1zM74 273h1v1h-1zM633 169h1v1h-1zM1281 316h1v2h-1zM35 317h1v1h-1zM82 257h1v2h-1zM1354 395h1v1h-1zM1314 368h1v1h-1zM19 331h1v2h-1zM349 216h1v1h-1zM11 345h1v2h-1zM826 397h1v1h-1zM1270 293h1v2h-1zM838 389h1v1h-1zM688 193h1v2h-1zM38 314h1v1h-1zM1295 340h1v2h-1zM1388 531h1v2h-1zM684 187h1v1h-1zM15 338h1v2h-1zM1284 321h1v2h-1zM1292 334h1v2h-1zM7 352h1v2h-1zM600 202h1v1h-1zM685 188h1v1h-1zM1285 323h1v1h-1zM1288 328h1v1h-1zM66 286h1v1h-1zM695 209h1v2h-1zM1084 259h1v2h-1zM905 284h1v2h-1zM345 213h1v1h-1zM1085 261h1v1h-1zM249 244h1v2h-1zM3 359h1v2h-1zM620 179h1v1h-1zM73 274h1v2h-1zM901 291h1v2h-1zM612 189h1v1h-1zM86 250h1v1h-1zM615 185h1v1h-1zM584 216h1v1h-1zM687 191h1v2h-1zM77 267h1v2h-1zM628 169h1v1h-1zM69 281h1v2h-1zM378 232h1v1h-1zM18 333h1v2h-1zM42 310h1v1h-1zM379 233h1v1h-1zM1070 239h1v1h-1zM623 175h1v1h-1zM1317 372h1v1h-1zM604 198h1v1h-1zM22 327h1v1h-1zM385 239h1v1h-1zM595 207h1v1h-1zM14 340h1v2h-1zM386 240h1v1h-1zM26 324h1v1h-1zM81 259h1v2h-1zM588 213h1v1h-1zM30 321h1v1h-1zM546 234h1v1h-1zM1020 233h1v1h-1zM904 286h1v2h-1zM341 210h1v1h-1zM1387 529h1v2h-1zM10 347h1v2h-1zM610 191h1v1h-1zM257 234h1v1h-1zM260 230h1v1h-1zM49 303h1v1h-1zM607 194h1v1h-1zM1316 370h1v2h-1zM900 293h1v2h-1zM306 211h1v1h-1zM6 354h1v2h-1zM679 182h1v1h-1zM76 269h1v2h-1zM37 315h1v1h-1zM680 183h1v1h-1zM1012 238h1v1h-1zM1004 243h1v1h-1zM599 203h1v1h-1zM634 170h1v1h-1zM844 385h1v1h-1zM1290 331h1v1h-1zM56 296h1v1h-1zM355 220h1v1h-1zM248 246h1v1h-1zM829 395h1v1h-1zM1304 359h1v1h-1zM1087 263h1v1h-1zM602 200h1v1h-1zM996 248h1v1h-1zM44 308h1v1h-1zM1065 235h1v1h-1z"/>
</g>
<g class="crisp">
<rect x="0" y="441" width="1656" height="1" fill="#ff0000"/>
<rect x="0" y="465" width="1656" height="1" fill="#ff0000"/>
<rect x="0" y="486" width="1656" height="1" fill="#2fc72f"/>
<rect x="0" y="503" width="1656" height="1" fill="#c0c0c0"/>
<rect x="0" y="525" width="1656" height="1" fill="#0000ff"/>
<rect x="0" y="551" width="1656" height="1" fill="#0000ff"/>
<rect x="1314" y="485" width="136" height="6" fill="#00ff00"/>
<rect x="-1.5" y="439.5" width="4" height="4" fill="#fff" stroke="#ff0000"/>
<rect x="1651.5" y="439.5" width="4" height="4" fill="#fff" stroke="#ff0000"/>
<rect x="-1.5" y="463.5" width="4" height="4" fill="#fff" stroke="#ff0000"/>
<rect x="1651.5" y="463.5" width="4" height="4" fill="#fff" stroke="#ff0000"/>
<rect x="-1.5" y="484.5" width="4" height="4" fill="#fff" stroke="#2fc72f"/>
<rect x="1651.5" y="484.5" width="4" height="4" fill="#fff" stroke="#2fc72f"/>
<rect x="-1.5" y="523.5" width="4" height="4" fill="#fff" stroke="#0000ff"/>
<rect x="1651.5" y="523.5" width="4" height="4" fill="#fff" stroke="#0000ff"/>
<rect x="-1.5" y="549.5" width="4" height="4" fill="#fff" stroke="#0000ff"/>
<rect x="1651.5" y="549.5" width="4" height="4" fill="#fff" stroke="#0000ff"/>
</g>
<g class="crisp">
<rect x="917" y="140" width="10" height="1" fill="#f00"/>
<rect x="725" y="508" width="9" height="1" fill="#f00"/>
<rect x="1301" y="402" width="9" height="1" fill="#f00"/>
<rect x="1263" y="486" width="8" height="1" fill="#f00"/>
<rect x="1260.5" y="484.5" width="3" height="3" fill="#fff" stroke="#f00"/>
<rect x="1367" y="568" width="6" height="1" fill="#f00"/>
<rect x="1365.5" y="566.5" width="3" height="3" fill="#fff" stroke="#f00"/>
</g>
<rect class="crisp" x="855.5" y="131.5" width="61" height="18" fill="#fff" stroke="#f00" stroke-width="1"/><text class="lb" x="857.7" y="146.6" textLength="57.3" lengthAdjust="spacingAndGlyphs">29107.4</text>
<rect class="crisp" x="663.5" y="499.5" width="61" height="18" fill="#fff" stroke="#f00" stroke-width="1"/><text class="lb" x="665.7" y="514.6" textLength="57.3" lengthAdjust="spacingAndGlyphs">27703.0</text>
<rect class="crisp" x="1239.5" y="393.5" width="61" height="18" fill="#fff" stroke="#f00" stroke-width="1"/><text class="lb" x="1241.7" y="408.6" textLength="57.3" lengthAdjust="spacingAndGlyphs">28107.6</text>
<rect class="crisp" x="1199.5" y="477.5" width="61" height="18" fill="#fff" stroke="#f00" stroke-width="1"/><text class="lb" x="1201.7" y="492.6" textLength="57.3" lengthAdjust="spacingAndGlyphs">27789.9</text>
<rect class="crisp" x="1304.5" y="559.5" width="61" height="18" fill="#fff" stroke="#f00" stroke-width="1"/><text class="lb" x="1306.7" y="574.6" textLength="57.3" lengthAdjust="spacingAndGlyphs">27477.5</text>
<g class="crisp">
<path d="M-2 150h1v19h-1zM6 143h1v30h-1zM14 131h1v86h-1zM22 161h1v65h-1zM30 171h1v22h-1zM38 186h1v21h-1zM46 185h1v6h-1zM54 158h1v26h-1zM62 147h1v129h-1zM70 188h1v57h-1zM78 178h1v59h-1zM86 215h1v29h-1zM94 215h1v30h-1zM102 243h1v23h-1zM110 167h1v120h-1zM118 177h1v39h-1zM126 182h1v23h-1zM134 182h1v31h-1zM142 198h1v16h-1zM150 193h1v20h-1zM158 130h1v78h-1zM166 146h1v50h-1zM174 175h1v40h-1zM182 160h1v22h-1zM190 169h1v13h-1zM198 179h1v29h-1zM206 173h1v61h-1zM214 173h1v28h-1zM222 151h1v35h-1zM230 129h1v32h-1zM238 129h1v15h-1zM246 99h1v19h-1zM254 100h1v83h-1zM262 151h1v34h-1zM270 151h1v36h-1zM278 129h1v48h-1zM286 130h1v11h-1zM294 130h1v18h-1zM302 117h1v67h-1zM310 150h1v20h-1zM318 150h1v36h-1zM326 160h1v36h-1zM334 169h1v21h-1zM342 180h1v16h-1zM350 184h1v43h-1zM358 210h1v24h-1zM366 208h1v37h-1zM374 201h1v16h-1zM382 205h1v27h-1zM390 220h1v19h-1zM398 178h1v60h-1zM406 189h1v26h-1zM414 144h1v68h-1zM422 165h1v19h-1zM430 167h1v28h-1zM438 169h1v26h-1zM446 160h1v68h-1zM454 178h1v28h-1zM462 171h1v13h-1zM470 178h1v15h-1zM478 167h1v19h-1zM486 140h1v16h-1zM494 125h1v53h-1zM502 125h1v31h-1zM510 131h1v17h-1zM518 123h1v18h-1zM526 102h1v33h-1zM534 91h1v20h-1zM542 55h1v64h-1zM550 57h1v24h-1zM558 72h1v18h-1zM566 80h1v16h-1zM574 81h1v16h-1zM582 91h1v14h-1zM590 68h1v39h-1zM598 88h1v29h-1zM606 95h1v14h-1zM614 95h1v46h-1zM622 70h1v54h-1zM630 118h1v31h-1zM638 133h1v86h-1zM646 155h1v43h-1zM654 130h1v34h-1zM662 144h1v45h-1zM670 129h1v26h-1zM678 119h1v29h-1zM686 137h1v39h-1zM694 172h1v57h-1zM702 221h1v63h-1zM710 260h1v36h-1zM718 281h1v28h-1zM726 307h1v33h-1zM734 334h1v174h-1zM742 330h1v159h-1zM750 306h1v56h-1zM758 256h1v64h-1zM766 245h1v24h-1zM774 233h1v51h-1zM782 216h1v88h-1zM790 210h1v68h-1zM798 230h1v35h-1zM806 221h1v23h-1zM814 207h1v25h-1zM822 193h1v22h-1zM830 181h1v40h-1zM838 205h1v47h-1zM846 231h1v26h-1zM854 236h1v21h-1zM862 235h1v26h-1zM870 227h1v19h-1zM878 199h1v49h-1zM886 201h1v28h-1zM894 189h1v28h-1zM902 175h1v28h-1zM910 144h1v42h-1zM918 154h1v18h-1zM926 140h1v46h-1zM934 154h1v30h-1zM942 168h1v14h-1zM950 161h1v17h-1zM958 165h1v9h-1zM966 154h1v18h-1zM974 151h1v35h-1zM982 169h1v25h-1zM990 169h1v27h-1zM998 188h1v20h-1zM1006 188h1v15h-1zM1014 197h1v13h-1zM1022 192h1v59h-1zM1030 203h1v39h-1zM1038 199h1v21h-1zM1046 202h1v18h-1zM1054 206h1v16h-1zM1062 203h1v19h-1zM1070 171h1v65h-1zM1078 215h1v81h-1zM1086 241h1v34h-1zM1094 244h1v18h-1zM1102 228h1v31h-1zM1110 209h1v22h-1zM1118 218h1v66h-1zM1126 230h1v56h-1zM1134 238h1v50h-1zM1142 239h1v27h-1zM1150 227h1v17h-1zM1158 233h1v22h-1zM1166 216h1v43h-1zM1174 223h1v23h-1zM1182 218h1v24h-1zM1190 228h1v16h-1zM1198 229h1v11h-1zM1206 235h1v20h-1zM1214 247h1v41h-1zM1222 270h1v37h-1zM1230 265h1v15h-1zM1238 265h1v7h-1zM1246 265h1v7h-1zM1254 248h1v22h-1zM1262 241h1v45h-1zM1270 253h1v41h-1zM1278 275h1v80h-1zM1286 331h1v39h-1zM1294 318h1v32h-1zM1302 350h1v42h-1zM1310 325h1v80h-1zM1318 309h1v65h-1zM1326 313h1v48h-1zM1334 320h1v31h-1zM1342 334h1v17h-1zM1350 351h1v16h-1zM1358 340h1v70h-1zM1366 384h1v164h-1zM1374 515h1v54h-1zM1382 473h1v72h-1zM1390 495h1v36h-1z" fill="#000"/>
<path d="M-4 150h5v19h-5zM4 157h5v15h-5zM12 166h5v46h-5zM28 174h5v20h-5zM44 189h5v3h-5zM60 167h5v75h-5zM76 197h5v35h-5zM92 218h5v23h-5zM116 178h5v18h-5zM132 184h5v25h-5zM140 207h5v1h-5zM164 151h5v44h-5zM180 177h5v3h-5zM196 180h5v22h-5zM236 130h5v10h-5zM252 112h5v45h-5zM260 157h5v3h-5zM268 159h5v19h-5zM292 132h5v14h-5zM300 146h5v23h-5zM316 160h5v4h-5zM324 163h5v12h-5zM332 173h5v18h-5zM348 197h5v19h-5zM356 215h5v18h-5zM380 205h5v23h-5zM388 221h5v12h-5zM404 190h5v6h-5zM428 167h5v29h-5zM444 173h5v22h-5zM460 177h5v1h-5zM468 179h5v8h-5zM492 142h5v13h-5zM516 131h5v3h-5zM532 99h5v12h-5zM548 64h5v13h-5zM556 74h5v16h-5zM572 81h5v11h-5zM580 98h5v4h-5zM588 101h5v3h-5zM604 99h5v1h-5zM612 97h5v24h-5zM628 120h5v26h-5zM636 144h5v53h-5zM660 152h5v3h-5zM676 125h5v15h-5zM684 138h5v39h-5zM692 176h5v52h-5zM700 227h5v54h-5zM708 281h5v14h-5zM716 294h5v10h-5zM724 307h5v23h-5zM732 338h5v121h-5zM772 242h5v27h-5zM788 231h5v26h-5zM828 209h5v1h-5zM836 209h5v25h-5zM844 232h5v10h-5zM852 240h5v5h-5zM860 241h5v3h-5zM868 230h5v4h-5zM924 152h5v6h-5zM932 157h5v20h-5zM948 170h5v1h-5zM956 171h5v1h-5zM972 156h5v20h-5zM980 173h5v14h-5zM988 184h5v6h-5zM996 188h5v5h-5zM1004 191h5v7h-5zM1012 201h5v1h-5zM1020 200h5v43h-5zM1044 202h5v16h-5zM1068 205h5v19h-5zM1076 224h5v47h-5zM1092 249h5v9h-5zM1108 211h5v9h-5zM1116 218h5v45h-5zM1124 261h5v21h-5zM1156 233h5v21h-5zM1172 231h5v6h-5zM1180 235h5v4h-5zM1196 236h5v1h-5zM1204 238h5v12h-5zM1212 251h5v29h-5zM1220 277h5v1h-5zM1236 268h5v3h-5zM1268 257h5v34h-5zM1276 290h5v63h-5zM1292 336h5v14h-5zM1300 356h5v24h-5zM1324 325h5v26h-5zM1340 342h5v1h-5zM1356 357h5v39h-5zM1364 396h5v140h-5zM1372 536h5v1h-5z" fill="#000"/>
<path d="M20 175h5v37h-5zM36 189h5v3h-5zM52 159h5v23h-5zM68 198h5v43h-5zM84 219h5v13h-5zM100 246h5v5h-5zM108 180h5v69h-5zM124 185h5v9h-5zM148 201h5v13h-5zM156 153h5v48h-5zM172 178h5v15h-5zM188 176h5v4h-5zM204 188h5v11h-5zM212 184h5v5h-5zM220 159h5v26h-5zM228 131h5v29h-5zM244 109h5v8h-5zM276 141h5v36h-5zM284 134h5v7h-5zM308 158h5v12h-5zM340 190h5v6h-5zM364 210h5v23h-5zM372 207h5v4h-5zM396 192h5v46h-5zM412 182h5v14h-5zM420 168h5v15h-5zM436 180h5v7h-5zM452 179h5v14h-5zM476 168h5v18h-5zM484 143h5v9h-5zM500 138h5v17h-5zM508 132h5v7h-5zM524 110h5v25h-5zM540 63h5v49h-5zM564 81h5v9h-5zM596 97h5v6h-5zM620 100h5v21h-5zM644 160h5v37h-5zM652 153h5v10h-5zM668 135h5v19h-5zM740 336h5v124h-5zM748 309h5v27h-5zM756 266h5v45h-5zM764 247h5v21h-5zM780 230h5v33h-5zM796 239h5v17h-5zM804 227h5v12h-5zM812 218h5v9h-5zM820 208h5v8h-5zM876 209h5v25h-5zM884 205h5v5h-5zM892 197h5v9h-5zM900 178h5v20h-5zM908 162h5v17h-5zM916 157h5v5h-5zM940 171h5v3h-5zM964 155h5v10h-5zM1028 215h5v27h-5zM1036 201h5v14h-5zM1052 212h5v6h-5zM1060 205h5v13h-5zM1084 249h5v21h-5zM1100 232h5v26h-5zM1132 245h5v36h-5zM1140 242h5v7h-5zM1148 237h5v5h-5zM1164 232h5v23h-5zM1188 237h5v3h-5zM1228 268h5v10h-5zM1244 266h5v6h-5zM1252 257h5v4h-5zM1260 256h5v5h-5zM1284 337h5v17h-5zM1308 346h5v31h-5zM1316 326h5v23h-5zM1332 345h5v4h-5zM1348 356h5v4h-5zM1380 505h5v33h-5zM1388 503h5v3h-5z" fill="#000"/>
<path d="M21 176h3v35h-3zM37 190h3v1h-3zM53 160h3v21h-3zM69 199h3v41h-3zM85 220h3v11h-3zM101 247h3v3h-3zM109 181h3v67h-3zM125 186h3v7h-3zM149 202h3v11h-3zM157 154h3v46h-3zM173 179h3v13h-3zM189 177h3v2h-3zM205 189h3v9h-3zM213 185h3v3h-3zM221 160h3v24h-3zM229 132h3v27h-3zM245 110h3v6h-3zM277 142h3v34h-3zM285 135h3v5h-3zM309 159h3v10h-3zM341 191h3v4h-3zM365 211h3v21h-3zM373 208h3v2h-3zM397 193h3v44h-3zM413 183h3v12h-3zM421 169h3v13h-3zM437 181h3v5h-3zM453 180h3v12h-3zM477 169h3v16h-3zM485 144h3v7h-3zM501 139h3v15h-3zM509 133h3v5h-3zM525 111h3v23h-3zM541 64h3v47h-3zM565 82h3v7h-3zM597 98h3v4h-3zM621 101h3v19h-3zM645 161h3v35h-3zM653 154h3v8h-3zM669 136h3v17h-3zM741 337h3v122h-3zM749 310h3v25h-3zM757 267h3v43h-3zM765 248h3v19h-3zM781 231h3v31h-3zM797 240h3v15h-3zM805 228h3v10h-3zM813 219h3v7h-3zM821 209h3v6h-3zM877 210h3v23h-3zM885 206h3v3h-3zM893 198h3v7h-3zM901 179h3v18h-3zM909 163h3v15h-3zM917 158h3v3h-3zM941 172h3v1h-3zM965 156h3v8h-3zM1029 216h3v25h-3zM1037 202h3v12h-3zM1053 213h3v4h-3zM1061 206h3v11h-3zM1085 250h3v19h-3zM1101 233h3v24h-3zM1133 246h3v34h-3zM1141 243h3v5h-3zM1149 238h3v3h-3zM1165 233h3v21h-3zM1189 238h3v1h-3zM1229 269h3v8h-3zM1245 267h3v4h-3zM1253 258h3v2h-3zM1261 257h3v3h-3zM1285 338h3v15h-3zM1309 347h3v29h-3zM1317 327h3v21h-3zM1333 346h3v2h-3zM1349 357h3v2h-3zM1381 506h3v31h-3zM1389 504h3v1h-3z" fill="#fff"/>
</g>
<g class="crisp">
<line x1="1266.8" y1="267.5" x2="1374.1" y2="565.8" stroke="#f00" stroke-width="4.5"/><polygon points="1376.3,572 1368.1,563.3 1377.1,560" fill="#f00"/>
<line x1="1376.6" y1="571" x2="1383.7" y2="484.6" stroke="#f00" stroke-width="3.3"/><polygon points="1384.2,478 1388.8,489.4 1377.8,488.5" fill="#f00"/>
<line x1="1383.5" y1="479" x2="1396.6" y2="505.6" stroke="#f00" stroke-width="4"/><polygon points="1399.5,511.5 1389.7,504.1 1399.6,499.2" fill="#f00"/>
</g>
<rect class="crisp" x="1511.5" y="489.5" width="110" height="24" fill="none" stroke="#3a3a3a" stroke-width="1"/>
<rect class="crisp" x="1565" y="487" width="2" height="2" fill="#ff40ff"/>
<text x="1513" y="508.2" style="font-family:'Liberation Serif','Noto Serif CJK SC',serif;font-size:20.6px;font-weight:200;fill:#00ff00" textLength="106.5" lengthAdjust="spacing">多空转折点</text>
<polygon class="crisp" points="1401,29 1410.5,29 1405.7,34.2" fill="#c0c0c0"/>
</g>
<polygon class="crisp" points="1,39.5 8.5,39.5 4.7,34.6" fill="#000"/>
<text class="s" x="12.9" y="40" textLength="197" lengthAdjust="spacingAndGlyphs" xml:space="preserve" style="white-space:pre">JPN225-,H4  27715.0 27752.5 27622.5 27725.0</text>
<g>
<rect x="1" y="72" width="109" height="33" fill="url(#gb2)"/>
<rect x="112" y="72" width="108" height="33" fill="url(#gb2)"/>
<rect x="1.5" y="48.5" width="51" height="24" fill="url(#gb1)" stroke="#d22a2a" stroke-width="1"/>
<rect x="168.5" y="48.5" width="51" height="24" fill="url(#gb1)" stroke="#d22a2a" stroke-width="1"/>
<rect x="2" y="72" width="50" height="2" fill="#da2b2b"/>
<rect x="169" y="72" width="50" height="2" fill="#da2b2b"/>
<rect x="5" y="71" width="44" height="1" fill="#a80f0f"/><rect x="5" y="72" width="44" height="1" fill="#ee6a6a"/>
<rect x="172" y="71" width="44" height="1" fill="#a80f0f"/><rect x="172" y="72" width="44" height="1" fill="#ee6a6a"/>
<rect x="55.5" y="48.5" width="111" height="21" fill="#fff" stroke="#a9a9a9"/>
<rect x="56.5" y="49.5" width="20" height="19" fill="url(#gsp)" stroke="#c8c8c8"/>
<rect x="145.5" y="49.5" width="20" height="19" fill="url(#gsp)" stroke="#c8c8c8"/>
<polygon points="63,57 68,57 65.5,60" fill="#4a5fc0"/>
<polygon points="152,60 157,60 154.5,57" fill="#4a5fc0"/>
<text x="141" y="62.6" text-anchor="end" style="font-size:12px;fill:#000">1.00</text>
<text x="13.2" y="63.9" style="font-size:12px;fill:#fff" textLength="25.6" lengthAdjust="spacingAndGlyphs">SELL</text>
<text x="181.8" y="63.9" style="font-size:12px;fill:#fff" textLength="22.6" lengthAdjust="spacingAndGlyphs">BUY</text>
<text x="17.4" y="100" style="font-size:12px;font-weight:bold;fill:#fff" textLength="34.3" lengthAdjust="spacingAndGlyphs">27723</text>
<text x="127.2" y="100" style="font-size:12px;font-weight:bold;fill:#fff" textLength="34" lengthAdjust="spacingAndGlyphs">27746</text>
<text x="53.9" y="100.4" style="font-size:33px;fill:#fff" textLength="25.6" lengthAdjust="spacingAndGlyphs">.5</text>
<text x="165" y="100.4" style="font-size:33px;fill:#fff" textLength="25.6" lengthAdjust="spacingAndGlyphs">.5</text>
</g>
<rect class="crisp" x="1658" y="435" width="41" height="11" fill="#ff0000"/><text class="tag" x="1662.5" y="443.9" textLength="33" lengthAdjust="spacingAndGlyphs">27961.4</text>
<rect class="crisp" x="1658" y="459" width="41" height="11" fill="#ff0000"/><text class="tag" x="1662.5" y="467.9" textLength="33" lengthAdjust="spacingAndGlyphs">27869.9</text>
<rect class="crisp" x="1658" y="480" width="41" height="11" fill="#3cc03c"/><text class="tag" x="1662.5" y="488.9" textLength="33" lengthAdjust="spacingAndGlyphs">27789.9</text>
<rect class="crisp" x="1658" y="498" width="41" height="11" fill="#000000"/><text class="tag" x="1662.5" y="506.9" textLength="33" lengthAdjust="spacingAndGlyphs">27725.0</text>
<rect class="crisp" x="1658" y="519" width="41" height="11" fill="#0000ff"/><text class="tag" x="1662.5" y="527.9" textLength="33" lengthAdjust="spacingAndGlyphs">27641.3</text>
<rect class="crisp" x="1658" y="545" width="41" height="11" fill="#0000ff"/><text class="tag" x="1662.5" y="553.9" textLength="33" lengthAdjust="spacingAndGlyphs">27542.3</text>
<g clip-path="url(#cpmacd)"><g class="crisp">
<path d="M6 596h1v64h-1zM14 603h1v57h-1zM22 605h1v55h-1zM30 609h1v51h-1zM38 613h1v47h-1zM46 617h1v43h-1zM54 616h1v44h-1zM62 626h1v34h-1zM70 629h1v31h-1zM78 635h1v25h-1zM86 639h1v21h-1zM94 645h1v15h-1zM102 650h1v10h-1zM110 647h1v13h-1zM118 646h1v14h-1zM126 645h1v15h-1zM134 645h1v15h-1zM142 648h1v12h-1zM150 647h1v13h-1zM158 643h1v17h-1zM166 643h1v17h-1zM174 644h1v16h-1zM182 644h1v16h-1zM190 644h1v16h-1zM198 645h1v15h-1zM206 645h1v15h-1zM214 646h1v14h-1zM222 644h1v16h-1zM230 639h1v21h-1zM238 637h1v23h-1zM246 632h1v28h-1zM254 633h1v27h-1zM262 635h1v25h-1zM270 636h1v24h-1zM278 637h1v23h-1zM286 636h1v24h-1zM294 637h1v23h-1zM302 640h1v20h-1zM310 642h1v18h-1zM318 644h1v16h-1zM326 647h1v13h-1zM334 651h1v9h-1zM342 655h1v5h-1zM358 660h1v5h-1zM366 660h1v7h-1zM374 660h1v9h-1zM382 660h1v12h-1zM390 660h1v15h-1zM398 660h1v13h-1zM406 660h1v10h-1zM414 660h1v8h-1zM422 660h1v4h-1zM430 660h1v3h-1zM438 660h1v3h-1zM446 660h1v3h-1zM454 660h1v1h-1zM478 659h1v1h-1zM486 654h1v6h-1zM494 652h1v8h-1zM502 649h1v11h-1zM510 645h1v15h-1zM518 643h1v17h-1zM526 639h1v21h-1zM534 635h1v25h-1zM542 628h1v32h-1zM550 624h1v36h-1zM558 623h1v37h-1zM566 622h1v38h-1zM574 622h1v38h-1zM582 624h1v36h-1zM590 626h1v34h-1zM598 628h1v32h-1zM606 630h1v30h-1zM614 633h1v27h-1zM622 634h1v26h-1zM630 641h1v19h-1zM638 651h1v9h-1zM646 656h1v4h-1zM654 659h1v1h-1zM662 659h1v1h-1zM670 659h1v1h-1zM678 659h1v1h-1zM686 660h1v4h-1zM694 660h1v13h-1zM702 660h1v25h-1zM710 660h1v36h-1zM718 660h1v46h-1zM726 660h1v56h-1zM734 660h1v77h-1zM742 660h1v79h-1zM750 660h1v77h-1zM758 660h1v69h-1zM766 660h1v61h-1zM774 660h1v56h-1zM782 660h1v47h-1zM790 660h1v42h-1zM798 660h1v35h-1zM806 660h1v30h-1zM814 660h1v23h-1zM822 660h1v16h-1zM830 660h1v11h-1zM838 660h1v10h-1zM846 660h1v10h-1zM854 660h1v10h-1zM862 660h1v9h-1zM870 660h1v8h-1zM878 660h1v4h-1zM894 658h1v2h-1zM902 653h1v7h-1zM910 647h1v13h-1zM918 642h1v18h-1zM926 639h1v21h-1zM934 638h1v22h-1zM942 638h1v22h-1zM950 637h1v23h-1zM958 637h1v23h-1zM966 636h1v24h-1zM974 638h1v22h-1zM982 640h1v20h-1zM990 642h1v18h-1zM998 645h1v15h-1zM1006 647h1v13h-1zM1014 650h1v10h-1zM1022 657h1v3h-1zM1030 659h1v1h-1zM1046 659h1v1h-1zM1054 659h1v1h-1zM1062 659h1v1h-1zM1070 660h1v3h-1zM1078 660h1v10h-1zM1086 660h1v13h-1zM1094 660h1v15h-1zM1102 660h1v15h-1zM1110 660h1v13h-1zM1118 660h1v15h-1zM1126 660h1v19h-1zM1134 660h1v17h-1zM1142 660h1v17h-1zM1150 660h1v17h-1zM1158 660h1v14h-1zM1166 660h1v13h-1zM1174 660h1v12h-1zM1182 660h1v11h-1zM1190 660h1v10h-1zM1198 660h1v8h-1zM1206 660h1v9h-1zM1214 660h1v12h-1zM1222 660h1v14h-1zM1230 660h1v15h-1zM1238 660h1v15h-1zM1246 660h1v14h-1zM1254 660h1v13h-1zM1262 660h1v12h-1zM1270 660h1v16h-1zM1278 660h1v24h-1zM1286 660h1v29h-1zM1294 660h1v34h-1zM1302 660h1v40h-1zM1310 660h1v41h-1zM1318 660h1v40h-1zM1326 660h1v40h-1zM1334 660h1v39h-1zM1342 660h1v38h-1zM1350 660h1v39h-1zM1358 660h1v45h-1zM1366 660h1v60h-1zM1374 660h1v74h-1zM1382 660h1v80h-1zM1390 660h1v84h-1z" fill="#c0c0c0"/>
<polyline points="0.5,604.3 6.6,601.8 12.6,600.4 18.7,599.2 23.9,598.9 29.9,598.2 36,599.1 42,600.8 48.1,602.1 54.1,604.7 60.2,607.3 66.2,610.6 72.3,613.5 78.4,616.4 84,619.1 90,622.4 96.1,625.7 102.1,629.2 108.2,632.4 113.8,635 120.5,637.1 127.7,639.8 147.8,645.1 167.8,645.8 187.9,644.8 208,645.1 228.1,644.1 248.2,641.4 268.2,639.1 288.3,636.4 308.4,636.1 325.1,638.4 341.9,642.4 358.6,648.5 375.3,655.8 392.1,663.2 405.5,668.2 422.2,670.9 438.9,669.9 455.7,666.9 475.7,663.5 495.8,659.2 515.9,654.8 525.9,651.8 536,647.5 549.4,641.4 560.5,635.1 573.9,630.7 590.6,626.7 605.7,624.7 620.7,626 630.8,628.4 644.2,634.1 660.9,642.4 677.6,649.8 694.4,658.5 707.8,665.9 721.1,675.9 734.5,691 747.9,704.3 761.3,716.1 774.7,722.1 784.7,723.4 796.4,721.8 808.2,713.7 821.5,704.3 838.3,691 851.7,683.3 865.1,676.6 881.8,670.9 895.2,668.2 908.6,663.2 921.9,658.2 935.3,651.8 948.7,646.8 962.1,641.4 975.5,638.4 992.2,637.7 1009,639.4 1025.7,644.1 1042.4,649.1 1059.2,654.8 1075.9,659.8 1092.6,664.2 1109.4,668.2 1120.5,671.4 1127.3,674.8 1141,676.8 1154.7,677.2 1168.4,677.2 1185.5,676.8 1199.2,674.8 1212.9,673.1 1226.6,673.1 1240.3,673.4 1254,674.1 1267.7,674.1 1281.4,676.5 1295.1,680.9 1308.8,686.1 1322.5,690.9 1336.2,694.6 1349.9,698.1 1363.6,702.9 1377.3,709 1391,715.9" fill="none" stroke="#f00" stroke-width="1" stroke-dasharray="3 3"/>
</g></g>
<g class="crisp"><line x1="1252.8" y1="653" x2="1404.8" y2="749.6" stroke="#f00" stroke-width="5.2"/><polygon points="1410.9,753.5 1397.8,751.7 1403.7,742.4" fill="#f00"/></g>
<text class="s" x="2.6" y="596" textLength="134" lengthAdjust="spacingAndGlyphs">MACD(12,26,9) -237.84 -157.78</text>
<text class="s" x="1660" y="593.7" textLength="27.8" lengthAdjust="spacingAndGlyphs">204.65</text>
<text class="s" x="1660.2" y="663" textLength="17.9" lengthAdjust="spacingAndGlyphs">0.00</text>
<text class="s" x="1660" y="749.8" textLength="30.4" lengthAdjust="spacingAndGlyphs">-258.91</text>
<g class="crisp"><rect x="1657" y="585" width="1" height="1" fill="#000"/><rect x="1657" y="659" width="1" height="1" fill="#000"/><rect x="1657" y="752" width="1" height="1" fill="#000"/></g>
<g clip-path="url(#cprsi)"><g class="crisp">
<line x1="0" y1="791.5" x2="1656" y2="791.5" stroke="#c0c0c0" stroke-width="1" stroke-dasharray="3 3"/>
<line x1="0" y1="842.5" x2="1656" y2="842.5" stroke="#c0c0c0" stroke-width="1" stroke-dasharray="3 3"/>
<line x1="0" y1="903.5" x2="1656" y2="903.5" stroke="#c0c0c0" stroke-width="1" stroke-dasharray="3 3"/>
<path d="M1242 855h3v1h-3zM278 832h2v1h-2zM289 832h2v1h-2zM893 832h2v1h-2zM708 882h6v1h-6zM1388 882h3v1h-3zM1093 861h2v1h-2zM1218 861h5v1h-5zM1338 861h5v1h-5zM232 824h4v1h-4zM504 824h4v1h-4zM514 824h5v1h-5zM578 824h2v1h-2zM908 824h2v1h-2zM638 866h2v1h-2zM28 830h2v1h-2zM34 830h8v1h-8zM284 830h3v1h-3zM492 830h2v1h-2zM897 830h2v1h-2zM934 830h2v1h-2zM115 835h2v1h-2zM120 835h4v1h-4zM173 835h13v1h-13zM254 835h2v1h-2zM420 835h2v1h-2zM882 835h6v1h-6zM975 835h2v1h-2zM1214 862h4v1h-4zM1322 862h2v1h-2zM1332 862h6v1h-6zM1343 862h2v1h-2zM130 838h2v1h-2zM167 838h2v1h-2zM205 838h5v1h-5zM263 838h2v1h-2zM298 838h2v1h-2zM309 838h3v1h-3zM416 838h2v1h-2zM820 838h11v1h-11zM980 838h2v1h-2zM1230 856h4v1h-4zM1240 856h2v1h-2zM1366 896h9v1h-9zM78 845h2v1h-2zM402 845h5v1h-5zM666 845h2v1h-2zM780 845h2v1h-2zM783 845h2v1h-2zM795 845h2v1h-2zM840 845h4v1h-4zM864 845h2v1h-2zM1007 845h2v1h-2zM1036 845h2v1h-2zM1059 845h2v1h-2zM1109 845h2v1h-2zM1170 845h6v1h-6zM1196 845h3v1h-3zM565 815h2v1h-2zM1326 864h2v1h-2zM1347 864h2v1h-2zM94 848h2v1h-2zM762 848h3v1h-3zM768 848h2v1h-2zM776 848h2v1h-2zM789 848h2v1h-2zM1013 848h2v1h-2zM1031 848h2v1h-2zM1052 848h3v1h-3zM1103 848h2v1h-2zM1138 848h13v1h-13zM80 844h4v1h-4zM87 844h2v1h-2zM325 844h2v1h-2zM398 844h4v1h-4zM407 844h2v1h-2zM431 844h2v1h-2zM445 844h2v1h-2zM676 844h3v1h-3zM797 844h3v1h-3zM838 844h2v1h-2zM866 844h3v1h-3zM1005 844h2v1h-2zM1061 844h2v1h-2zM1166 844h4v1h-4zM586 828h3v1h-3zM592 828h2v1h-2zM901 828h2v1h-2zM940 828h19v1h-19zM148 839h3v1h-3zM203 839h2v1h-2zM306 839h3v1h-3zM312 839h4v1h-4zM458 839h5v1h-5zM816 839h4v1h-4zM874 839h2v1h-2zM982 839h4v1h-4zM134 841h10v1h-10zM199 841h2v1h-2zM268 841h2v1h-2zM302 841h2v1h-2zM319 841h2v1h-2zM412 841h2v1h-2zM436 841h2v1h-2zM439 841h2v1h-2zM451 841h2v1h-2zM465 841h2v1h-2zM808 841h4v1h-4zM994 841h6v1h-6zM62 847h2v1h-2zM92 847h2v1h-2zM765 847h3v1h-3zM787 847h2v1h-2zM791 847h2v1h-2zM1011 847h2v1h-2zM1055 847h2v1h-2zM1105 847h2v1h-2zM1180 847h12v1h-12zM1200 847h2v1h-2zM90 846h2v1h-2zM328 846h2v1h-2zM785 846h2v1h-2zM793 846h2v1h-2zM844 846h20v1h-20zM1009 846h2v1h-2zM1034 846h2v1h-2zM1040 846h2v1h-2zM1057 846h2v1h-2zM1107 846h2v1h-2zM1176 846h4v1h-4zM1192 846h4v1h-4zM84 843h3v1h-3zM323 843h2v1h-2zM443 843h2v1h-2zM447 843h2v1h-2zM469 843h2v1h-2zM672 843h4v1h-4zM800 843h4v1h-4zM836 843h2v1h-2zM869 843h2v1h-2zM1002 843h3v1h-3zM916 821h11v1h-11zM113 834h2v1h-2zM124 834h3v1h-3zM186 834h5v1h-5zM293 834h2v1h-2zM888 834h2v1h-2zM648 851h2v1h-2zM1155 851h2v1h-2zM1250 851h2v1h-2zM30 831h4v1h-4zM42 831h5v1h-5zM280 831h4v1h-4zM287 831h2v1h-2zM621 831h2v1h-2zM895 831h2v1h-2zM226 826h2v1h-2zM500 826h2v1h-2zM582 826h2v1h-2zM597 826h10v1h-10zM960 826h2v1h-2zM380 857h2v1h-2zM1228 857h2v1h-2zM1234 857h6v1h-6zM236 825h3v1h-3zM502 825h2v1h-2zM580 825h2v1h-2zM906 825h2v1h-2zM356 863h2v1h-2zM744 863h2v1h-2zM1022 863h2v1h-2zM1124 863h2v1h-2zM1324 863h2v1h-2zM1328 863h4v1h-4zM1345 863h2v1h-2zM372 852h3v1h-3zM646 852h2v1h-2zM1157 852h2v1h-2zM1292 876h3v1h-3zM74 842h2v1h-2zM321 842h2v1h-2zM410 842h2v1h-2zM434 842h2v1h-2zM441 842h2v1h-2zM449 842h2v1h-2zM467 842h2v1h-2zM670 842h2v1h-2zM804 842h4v1h-4zM1000 842h2v1h-2zM1078 868h2v1h-2zM110 833h3v1h-3zM218 833h2v1h-2zM291 833h2v1h-2zM890 833h3v1h-3zM117 836h3v1h-3zM171 836h2v1h-2zM256 836h4v1h-4zM878 836h4v1h-4zM53 823h2v1h-2zM230 823h2v1h-2zM240 823h2v1h-2zM508 823h6v1h-6zM910 823h2v1h-2zM964 823h2v1h-2zM1288 875h4v1h-4zM24 827h2v1h-2zM488 827h2v1h-2zM584 827h2v1h-2zM594 827h3v1h-3zM903 827h2v1h-2zM384 859h4v1h-4zM1088 859h2v1h-2zM352 860h2v1h-2zM388 860h3v1h-3zM748 860h2v1h-2zM1090 860h3v1h-3zM1120 860h2v1h-2zM1223 860h2v1h-2zM1319 860h2v1h-2zM368 853h4v1h-4zM1247 853h2v1h-2zM382 858h2v1h-2zM1086 858h2v1h-2zM1226 858h2v1h-2zM733 900h2v1h-2zM575 822h2v1h-2zM912 822h4v1h-4zM702 880h2v1h-2zM1298 880h2v1h-2zM714 883h5v1h-5zM1384 883h4v1h-4zM96 849h4v1h-4zM332 849h2v1h-2zM653 849h10v1h-10zM760 849h2v1h-2zM770 849h3v1h-3zM1044 849h2v1h-2zM1048 849h4v1h-4zM1134 849h4v1h-4zM1151 849h2v1h-2zM1254 849h9v1h-9zM366 854h2v1h-2zM376 854h2v1h-2zM1245 854h2v1h-2zM100 850h3v1h-3zM334 850h9v1h-9zM650 850h3v1h-3zM758 850h2v1h-2zM773 850h2v1h-2zM1046 850h2v1h-2zM1153 850h2v1h-2zM1204 850h2v1h-2zM1252 850h2v1h-2zM0 818h3v1h-3zM559 818h2v1h-2zM144 840h4v1h-4zM201 840h2v1h-2zM266 840h2v1h-2zM304 840h2v1h-2zM316 840h3v1h-3zM453 840h5v1h-5zM463 840h2v1h-2zM812 840h4v1h-4zM832 840h2v1h-2zM986 840h8v1h-8zM704 881h4v1h-4zM1278 881h2v1h-2zM3 819h4v1h-4zM244 820h2v1h-2zM572 820h2v1h-2zM546 807h2v1h-2zM169 837h2v1h-2zM210 837h5v1h-5zM260 837h3v1h-3zM978 837h2v1h-2zM496 829h2v1h-2zM589 829h3v1h-3zM899 829h2v1h-2zM936 829h4v1h-4zM721 885h2v1h-2zM719 884h2v1h-2zM1382 884h2v1h-2zM733 899h2v1h-2zM1349 865h2v1h-2zM561 817h2v1h-2zM568 817h2v1h-2zM1286 874h2v1h-2zM526 816h9v1h-9zM563 816h2v1h-2zM723 886h2v1h-2zM725 887h2v1h-2zM1027 854h1v2h-1zM52 824h1v1h-1zM610 832h1v2h-1zM394 852h1v2h-1zM10 826h1v2h-1zM1278 882h1v1h-1zM933 829h1v1h-1zM253 832h1v2h-1zM344 852h1v1h-1zM539 808h1v1h-1zM636 862h1v2h-1zM754 854h1v2h-1zM1080 866h1v1h-1zM1270 864h1v3h-1zM1364 890h1v3h-1zM632 854h1v2h-1zM89 845h1v1h-1zM1020 859h1v2h-1zM738 881h1v5h-1zM7 820h1v2h-1zM1023 862h1v1h-1zM633 856h1v2h-1zM644 855h1v2h-1zM535 814h1v2h-1zM1213 860h1v2h-1zM1361 883h1v2h-1zM742 865h1v3h-1zM108 836h1v2h-1zM222 830h1v1h-1zM1267 858h1v2h-1zM1072 856h1v2h-1zM872 841h1v1h-1zM153 834h1v1h-1zM613 837h1v2h-1zM276 834h1v2h-1zM640 863h1v2h-1zM959 827h1v1h-1zM215 836h1v1h-1zM1073 858h1v2h-1zM876 838h1v1h-1zM343 851h1v1h-1zM625 837h1v2h-1zM1304 879h1v2h-1zM834 841h1v1h-1zM963 824h1v1h-1zM249 824h1v2h-1zM741 868h1v4h-1zM419 836h1v1h-1zM127 835h1v1h-1zM242 822h1v1h-1zM1130 856h1v2h-1zM105 843h1v2h-1zM66 843h1v1h-1zM1266 856h1v2h-1zM1308 871h1v2h-1zM476 836h1v1h-1zM1164 846h1v1h-1zM55 824h1v3h-1zM1100 852h1v1h-1zM350 858h1v1h-1zM1042 847h1v1h-1zM229 824h1v1h-1zM351 859h1v1h-1zM362 859h1v1h-1zM1315 862h1v1h-1zM1043 848h1v1h-1zM1375 894h1v2h-1zM1126 864h1v1h-1zM1263 850h1v2h-1zM396 848h1v2h-1zM553 813h1v1h-1zM73 841h1v1h-1zM1068 850h1v1h-1zM699 876h1v1h-1zM753 856h1v1h-1zM1285 875h1v1h-1zM1277 879h1v2h-1zM1069 851h1v1h-1zM252 830h1v2h-1zM13 832h1v2h-1zM700 877h1v1h-1zM426 839h1v2h-1zM665 846h1v1h-1zM542 803h1v1h-1zM248 822h1v2h-1zM9 824h1v2h-1zM69 839h1v1h-1zM331 848h1v1h-1zM635 860h1v2h-1zM61 844h1v3h-1zM737 886h1v4h-1zM438 840h1v1h-1zM616 837h1v1h-1zM430 845h1v1h-1zM21 826h1v1h-1zM365 855h1v1h-1zM1026 856h1v2h-1zM1360 880h1v3h-1zM1269 862h1v2h-1zM495 830h1v1h-1zM275 836h1v1h-1zM487 826h1v1h-1zM538 809h1v2h-1zM16 832h1v1h-1zM194 838h1v1h-1zM736 890h1v5h-1zM499 827h1v1h-1zM58 834h1v3h-1zM627 842h1v2h-1zM480 832h1v1h-1zM1378 890h1v1h-1zM973 832h1v2h-1zM195 839h1v1h-1zM270 842h1v1h-1zM624 834h1v3h-1zM156 829h1v2h-1zM1022 864h1v1h-1zM1159 851h1v1h-1zM1129 858h1v2h-1zM1276 877h1v2h-1zM1132 852h1v2h-1zM12 830h1v2h-1zM1079 867h1v1h-1zM669 843h1v1h-1zM107 838h1v2h-1zM1038 844h1v1h-1zM631 852h1v2h-1zM297 837h1v1h-1zM1030 849h1v1h-1zM1019 857h1v2h-1zM634 858h1v2h-1zM1314 863h1v2h-1zM152 835h1v2h-1zM1303 881h1v2h-1zM1280 880h1v1h-1zM395 850h1v2h-1zM1265 854h1v2h-1zM522 820h1v1h-1zM54 822h1v1h-1zM483 828h1v1h-1zM106 840h1v3h-1zM51 825h1v1h-1zM160 829h1v2h-1zM1352 868h1v1h-1zM681 848h1v2h-1zM756 852h1v1h-1zM1082 863h1v2h-1zM327 845h1v1h-1zM57 831h1v3h-1zM1071 854h1v2h-1zM68 840h1v2h-1zM698 874h1v2h-1zM1114 851h1v2h-1zM928 823h1v1h-1zM1021 861h1v2h-1zM1117 856h1v2h-1zM8 822h1v2h-1zM251 828h1v2h-1zM11 828h1v2h-1zM364 856h1v2h-1zM556 817h1v1h-1zM345 853h1v1h-1zM1273 871h1v2h-1zM1025 858h1v2h-1zM735 895h1v4h-1zM429 843h1v2h-1zM740 872h1v5h-1zM630 849h1v3h-1zM472 841h1v1h-1zM346 854h1v1h-1zM224 828h1v1h-1zM475 837h1v1h-1zM1163 847h1v1h-1zM1018 855h1v2h-1zM570 818h1v1h-1zM732 897h1v2h-1zM905 826h1v1h-1zM548 808h1v1h-1zM1063 845h1v1h-1zM571 819h1v1h-1zM1311 867h1v1h-1zM217 834h1v1h-1zM1208 854h1v1h-1zM1264 852h1v2h-1zM1295 877h1v1h-1zM1064 846h1v1h-1zM679 845h1v2h-1zM133 840h1v1h-1zM541 804h1v2h-1zM645 853h1v2h-1zM164 835h1v2h-1zM555 816h1v1h-1zM1359 878h1v2h-1zM962 825h1v1h-1zM680 847h1v1h-1zM701 878h1v2h-1zM1309 869h1v2h-1zM1381 885h1v2h-1zM1275 875h1v2h-1zM56 827h1v4h-1zM1070 852h1v2h-1zM1321 861h1v1h-1zM414 840h1v1h-1zM1113 850h1v1h-1zM151 837h1v2h-1zM65 844h1v1h-1zM247 820h1v2h-1zM778 847h1v1h-1zM18 829h1v2h-1zM250 826h1v2h-1zM623 832h1v2h-1zM1272 869h1v2h-1zM615 838h1v1h-1zM544 805h1v1h-1zM228 825h1v1h-1zM1377 891h1v2h-1zM782 844h1v1h-1zM1097 856h1v2h-1zM60 840h1v4h-1zM375 853h1v1h-1zM728 890h1v2h-1zM1207 852h1v2h-1zM398 845h1v1h-1zM359 863h1v1h-1zM1362 885h1v3h-1zM221 831h1v1h-1zM1131 854h1v2h-1zM1351 866h1v2h-1zM1354 870h1v2h-1zM683 851h1v2h-1zM1112 848h1v2h-1zM927 822h1v1h-1zM1029 850h1v2h-1zM1355 872h1v1h-1zM1085 859h1v2h-1zM739 877h1v4h-1zM554 814h1v2h-1zM687 857h1v2h-1zM626 839h1v3h-1zM1116 854h1v2h-1zM618 834h1v2h-1zM835 842h1v1h-1zM418 837h1v1h-1zM197 841h1v1h-1zM524 818h1v1h-1zM128 836h1v1h-1zM482 829h1v2h-1zM246 819h1v1h-1zM1017 853h1v2h-1zM1271 867h1v2h-1zM129 837h1v1h-1zM277 833h1v1h-1zM540 806h1v2h-1zM15 833h1v1h-1zM110 832h1v1h-1zM272 839h1v2h-1zM155 831h1v1h-1zM239 824h1v1h-1zM1161 849h1v1h-1zM731 895h1v2h-1zM1380 887h1v1h-1zM629 847h1v2h-1zM159 827h1v2h-1zM1358 876h1v2h-1zM1024 860h1v2h-1zM755 853h1v1h-1zM682 850h1v1h-1zM831 839h1v1h-1zM690 862h1v2h-1zM746 862h1v1h-1zM1300 881h1v1h-1zM474 838h1v2h-1zM664 847h1v1h-1zM196 840h1v1h-1zM26 828h1v1h-1zM686 856h1v1h-1zM1301 882h1v1h-1zM750 859h1v1h-1zM1282 878h1v1h-1zM930 825h1v2h-1zM1365 893h1v2h-1zM1274 873h1v2h-1zM543 804h1v1h-1zM1096 858h1v1h-1zM1313 865h1v1h-1zM485 826h1v1h-1zM1039 845h1v1h-1zM558 819h1v1h-1zM1122 861h1v1h-1zM1016 851h1v2h-1zM1206 851h1v1h-1zM734 901h1v1h-1zM1123 862h1v1h-1zM348 856h1v1h-1zM1028 852h1v2h-1zM393 854h1v2h-1zM59 837h1v3h-1zM1081 865h1v1h-1zM1084 861h1v1h-1zM162 832h1v2h-1zM727 888h1v2h-1zM1210 856h1v2h-1zM519 823h1v1h-1zM165 837h1v2h-1zM48 829h1v1h-1zM477 835h1v1h-1zM104 845h1v2h-1zM1077 866h1v2h-1zM158 826h1v1h-1zM166 839h1v1h-1zM1066 848h1v1h-1zM1111 846h1v2h-1zM1099 853h1v2h-1zM607 827h1v2h-1zM693 867h1v2h-1zM1165 845h1v1h-1zM557 818h1v1h-1zM1225 859h1v1h-1zM423 835h1v2h-1zM109 834h1v2h-1zM1115 853h1v1h-1zM223 829h1v1h-1zM1316 861h1v1h-1zM424 837h1v1h-1zM154 832h1v2h-1zM1376 893h1v1h-1zM397 846h1v2h-1zM729 892h1v2h-1zM639 865h1v1h-1zM730 894h1v1h-1zM1296 878h1v1h-1zM871 842h1v1h-1zM628 844h1v3h-1zM549 809h1v1h-1zM1353 869h1v1h-1zM161 831h1v1h-1zM967 823h1v2h-1zM685 854h1v2h-1zM67 842h1v1h-1zM550 810h1v1h-1zM70 838h1v1h-1zM1065 847h1v1h-1zM643 857h1v2h-1zM1357 874h1v2h-1zM971 829h1v2h-1zM929 824h1v1h-1zM1307 873h1v2h-1zM689 861h1v1h-1zM1118 858h1v1h-1zM523 819h1v1h-1zM1202 848h1v1h-1zM62 848h1v1h-1zM481 831h1v1h-1zM1119 859h1v1h-1zM1379 888h1v2h-1zM347 855h1v1h-1zM757 851h1v1h-1zM358 864h1v1h-1zM1133 850h1v2h-1zM1209 855h1v1h-1zM1160 850h1v1h-1zM1284 876h1v1h-1zM1095 859h1v2h-1zM688 859h1v2h-1zM1076 864h1v2h-1zM191 835h1v1h-1zM617 836h1v1h-1zM620 832h1v1h-1zM966 822h1v1h-1zM684 853h1v1h-1zM692 865h1v2h-1zM17 831h1v1h-1zM392 856h1v2h-1zM361 860h1v1h-1zM198 842h1v1h-1zM545 806h1v1h-1zM271 841h1v1h-1zM103 847h1v2h-1zM427 841h1v1h-1zM494 831h1v1h-1zM157 827h1v2h-1zM1015 849h1v2h-1zM274 837h1v1h-1zM537 811h1v1h-1zM642 859h1v2h-1zM47 830h1v1h-1zM695 870h1v2h-1zM1075 862h1v2h-1zM1356 873h1v1h-1zM1212 859h1v1h-1zM970 828h1v1h-1zM608 829h1v2h-1zM20 827h1v1h-1zM691 864h1v1h-1zM354 861h1v1h-1zM567 816h1v1h-1zM609 831h1v1h-1zM638 867h1v1h-1zM422 834h1v1h-1zM974 834h1v1h-1zM932 828h1v1h-1zM433 843h1v1h-1zM484 827h1v1h-1zM1102 849h1v1h-1zM977 836h1v1h-1zM1302 883h1v1h-1zM76 843h1v1h-1zM1366 895h1v1h-1zM521 821h1v1h-1zM1363 888h1v2h-1zM77 844h1v1h-1zM498 828h1v1h-1zM50 826h1v2h-1zM1083 862h1v1h-1zM479 833h1v1h-1zM1128 860h1v2h-1zM415 839h1v1h-1zM752 857h1v1h-1zM1078 869h1v1h-1zM1306 875h1v2h-1zM243 821h1v1h-1zM1318 859h1v1h-1zM775 849h1v1h-1zM64 845h1v2h-1zM163 834h1v1h-1zM225 827h1v1h-1zM969 826h1v2h-1zM779 846h1v1h-1zM300 839h1v1h-1zM391 858h1v2h-1zM694 869h1v1h-1zM360 861h1v2h-1zM612 835h1v2h-1zM668 844h1v1h-1zM27 829h1v1h-1zM301 840h1v1h-1zM1098 855h1v1h-1zM490 828h1v1h-1zM1033 847h1v1h-1zM931 827h1v1h-1zM552 812h1v1h-1zM471 842h1v1h-1zM637 864h1v2h-1zM1162 848h1v1h-1zM577 823h1v1h-1zM491 829h1v1h-1zM873 840h1v1h-1zM641 861h1v2h-1zM1310 868h1v1h-1zM349 857h1v1h-1zM1283 877h1v1h-1zM1211 858h1v1h-1zM1297 879h1v1h-1zM1074 860h1v2h-1zM525 817h1v1h-1zM23 826h1v1h-1zM1101 850h1v2h-1zM1067 849h1v1h-1zM72 840h1v1h-1zM968 825h1v1h-1zM536 812h1v2h-1zM551 811h1v1h-1zM611 834h1v1h-1zM1127 862h1v2h-1zM216 835h1v1h-1zM425 838h1v1h-1zM877 837h1v1h-1zM1203 849h1v1h-1zM1305 877h1v2h-1zM743 864h1v1h-1zM102 849h1v1h-1zM220 832h1v1h-1zM295 835h1v1h-1zM622 830h1v1h-1zM22 825h1v1h-1zM296 836h1v1h-1zM265 839h1v1h-1zM1268 860h1v2h-1zM619 833h1v1h-1zM486 825h1v1h-1zM71 839h1v1h-1zM193 837h1v1h-1zM363 858h1v1h-1zM19 828h1v1h-1zM409 843h1v1h-1zM972 831h1v1h-1zM574 821h1v1h-1zM378 855h1v1h-1zM273 838h1v1h-1zM254 834h1v1h-1zM379 856h1v1h-1zM14 834h1v1h-1zM1249 852h1v1h-1zM520 822h1v1h-1zM747 861h1v1h-1zM49 828h1v1h-1zM330 847h1v1h-1zM478 834h1v1h-1zM751 858h1v1h-1zM428 842h1v1h-1zM1317 860h1v1h-1zM473 840h1v1h-1zM192 836h1v1h-1zM663 848h1v1h-1zM1281 879h1v1h-1zM1312 866h1v1h-1zM1199 846h1v1h-1zM696 872h1v1h-1zM132 839h1v1h-1zM614 839h1v1h-1zM697 873h1v1h-1zM355 862h1v1h-1z" fill="#1e90ff"/>
</g></g>
<g class="crisp"><line x1="1229" y1="844.8" x2="1382.1" y2="888.3" stroke="#f00" stroke-width="3.8"/><polygon points="1389,890.3 1376,892 1378.9,882" fill="#f00"/></g>
<text class="s" x="2.6" y="768" textLength="67" lengthAdjust="spacingAndGlyphs">RSI(14) 26.7782</text>
<text class="s" x="1659.8" y="766" textLength="14.6" lengthAdjust="spacingAndGlyphs">100</text>
<text class="s" x="1659.8" y="795" textLength="9.8" lengthAdjust="spacingAndGlyphs">80</text>
<text class="s" x="1659.8" y="846" textLength="9.8" lengthAdjust="spacingAndGlyphs">50</text>
<text class="s" x="1659.8" y="907" textLength="9.8" lengthAdjust="spacingAndGlyphs">15</text>
<text class="s" x="1659.8" y="925.6" textLength="4.9" lengthAdjust="spacingAndGlyphs">0</text>
<g class="crisp"><rect x="1657" y="757" width="1" height="1" fill="#000"/></g>
<g class="crisp">
<rect x="62" y="930" width="1" height="3" fill="#000"/>
<rect x="126" y="930" width="1" height="3" fill="#000"/>
<rect x="190" y="930" width="1" height="3" fill="#000"/>
<rect x="254" y="930" width="1" height="3" fill="#000"/>
<rect x="318" y="930" width="1" height="3" fill="#000"/>
<rect x="382" y="930" width="1" height="3" fill="#000"/>
<rect x="446" y="930" width="1" height="3" fill="#000"/>
<rect x="510" y="930" width="1" height="3" fill="#000"/>
<rect x="574" y="930" width="1" height="3" fill="#000"/>
<rect x="638" y="930" width="1" height="3" fill="#000"/>
<rect x="702" y="930" width="1" height="3" fill="#000"/>
<rect x="766" y="930" width="1" height="3" fill="#000"/>
<rect x="830" y="930" width="1" height="3" fill="#000"/>
<rect x="894" y="930" width="1" height="3" fill="#000"/>
<rect x="958" y="930" width="1" height="3" fill="#000"/>
<rect x="1022" y="930" width="1" height="3" fill="#000"/>
<rect x="1086" y="930" width="1" height="3" fill="#000"/>
<rect x="1150" y="930" width="1" height="3" fill="#000"/>
<rect x="1214" y="930" width="1" height="3" fill="#000"/>
<rect x="1278" y="930" width="1" height="3" fill="#000"/>
<rect x="1342" y="930" width="1" height="3" fill="#000"/>
</g>
<text class="s" x="-4.4" y="942" textLength="56.1" lengthAdjust="spacingAndGlyphs">28 May 2021</text>
<text class="s" x="61.7" y="942" textLength="46.6" lengthAdjust="spacingAndGlyphs">1 Jun 00:00</text>
<text class="s" x="125.7" y="942" textLength="46.6" lengthAdjust="spacingAndGlyphs">2 Jun 10:55</text>
<text class="s" x="189.7" y="942" textLength="46.6" lengthAdjust="spacingAndGlyphs">3 Jun 18:55</text>
<text class="s" x="253.7" y="942" textLength="46.6" lengthAdjust="spacingAndGlyphs">7 Jun 00:00</text>
<text class="s" x="317.7" y="942" textLength="46.6" lengthAdjust="spacingAndGlyphs">8 Jun 09:00</text>
<text class="s" x="381.7" y="942" textLength="46.6" lengthAdjust="spacingAndGlyphs">9 Jun 18:55</text>
<text class="s" x="445.7" y="942" textLength="50.9" lengthAdjust="spacingAndGlyphs">11 Jun 00:00</text>
<text class="s" x="509.7" y="942" textLength="51.5" lengthAdjust="spacingAndGlyphs">14 Jun 10:55</text>
<text class="s" x="573.7" y="942" textLength="51.5" lengthAdjust="spacingAndGlyphs">15 Jun 18:55</text>
<text class="s" x="637.7" y="942" textLength="51.5" lengthAdjust="spacingAndGlyphs">17 Jun 00:00</text>
<text class="s" x="701.7" y="942" textLength="51.5" lengthAdjust="spacingAndGlyphs">18 Jun 10:55</text>
<text class="s" x="765.7" y="942" textLength="51.5" lengthAdjust="spacingAndGlyphs">21 Jun 18:55</text>
<text class="s" x="829.7" y="942" textLength="51.5" lengthAdjust="spacingAndGlyphs">23 Jun 00:00</text>
<text class="s" x="893.7" y="942" textLength="51.5" lengthAdjust="spacingAndGlyphs">24 Jun 10:55</text>
<text class="s" x="957.7" y="942" textLength="51.5" lengthAdjust="spacingAndGlyphs">25 Jun 18:55</text>
<text class="s" x="1021.7" y="942" textLength="51.5" lengthAdjust="spacingAndGlyphs">29 Jun 00:00</text>
<text class="s" x="1085.7" y="942" textLength="51.5" lengthAdjust="spacingAndGlyphs">30 Jun 10:55</text>
<text class="s" x="1149.7" y="942" textLength="43.6" lengthAdjust="spacingAndGlyphs">1 Jul 18:55</text>
<text class="s" x="1213.7" y="942" textLength="43.6" lengthAdjust="spacingAndGlyphs">5 Jul 00:00</text>
<text class="s" x="1277.7" y="942" textLength="43.6" lengthAdjust="spacingAndGlyphs">6 Jul 10:55</text>
<text class="s" x="1341.7" y="942" textLength="43.6" lengthAdjust="spacingAndGlyphs">7 Jul 18:55</text>
<path d="M-3 4.5 h7.3 v9 h-8z" fill="#fafafa" stroke="#b0a890" stroke-width="0.8"/>
<line x1="3.4" y1="16.8" x2="9.0" y2="20.4" stroke="#c9a227" stroke-width="3" stroke-linecap="round"/><line x1="4.2" y1="16.0" x2="9.7" y2="19.599999999999998" stroke="#8a6d14" stroke-width="0.8"/><circle cx="-0.6" cy="12.8" r="5.4" fill="url(#glens)" stroke="#3f7fd0" stroke-width="1.3"/>
<rect class="crisp" x="17" y="1" width="1" height="21" fill="#a0a0a0"/>
<path d="M28.5 4.5 h6.5 l3.5 3.5 v8.5 q0 1 -1 1 h-9 q-1 0 -1 -1 v-11 q0 -1 1 -1z" fill="#fdfdfd" stroke="#747474" stroke-width="1.1"/>
<path d="M35 4.5 v3.5 h3.5" fill="#e8e8e8" stroke="#747474" stroke-width="0.9"/>
<path d="M29.5 7 h2.6 M29.5 10.5 h6 M29.5 12.5 h4.5 M29.5 14.5 h2.5" stroke="#8a8a8a" stroke-width="1"/>
<path d="M35.03333333333333 10.7 h3.733333333333333 v3.733333333333333 h3.733333333333333 v3.733333333333333 h-3.733333333333333 v3.733333333333333 h-3.733333333333333 v-3.733333333333333 h-3.733333333333333 v-3.733333333333333 h3.733333333333333 z" fill="url(#gplus)" stroke="#0a8a12" stroke-width="0.9"/>
<text class="cj" x="45.5" y="15.6" textLength="36.5" lengthAdjust="spacing">新订单</text>
<path d="M94 14 L99.5 5.2 Q104.5 7 109.8 12.8 L102.4 20z" fill="url(#ggold)" stroke="#a87408" stroke-width="0.8" stroke-linejoin="round"/>
<path d="M97 12.6 L100.4 7.2 Q103.5 8.4 106.4 11.6z" fill="#fbe88a" opacity="0.75"/>
<path d="M102.4 20 L109.8 12.8 L110.2 14.4 L103 21z" fill="#9a6a08" stroke="#7a5206" stroke-width="0.4"/>
<path d="M94 14 L102.4 20 L103 21 L94.4 15.2z" fill="#c08a10"/>
<path d="M125 4.5 l7.5 -0.5 l2.5 1.5 v8 h-10z" fill="#2a8ef0" stroke="#1568c4" stroke-width="0.8"/>
<rect x="129" y="7" width="5" height="1.6" fill="#d5ebff"/><rect x="129" y="10" width="5" height="3" fill="#eaf5ff"/>
<path d="M125 19.2 a3 3 0 0 1 0.2 -6 a3.6 3.6 0 0 1 6.6 -1 a3 3 0 0 1 4.4 2.3 a2.5 2.5 0 0 1 -0.6 4.7z" fill="#eef2fa" stroke="#7b95c4" stroke-width="0.9"/>
<path d="M158.3 4.6 a7.4 7.4 0 0 1 0 14.8 z" fill="#bfe0b8" opacity="0.8"/>
<path d="M158.3 4.6 a7.4 7.4 0 0 1 0 14.8" fill="none" stroke="#8fc08a" stroke-width="1"/>
<path d="M158.3 7.6 a4.4 4.4 0 0 1 0 8.8" fill="none" stroke="#9fcf9a" stroke-width="1"/>
<path d="M156 4.9 a7.4 7.4 0 0 0 0 14.2" fill="none" stroke="#6f97dc" stroke-width="1.2"/>
<path d="M156.6 7.9 a4.3 4.3 0 0 0 0 8.2" fill="none" stroke="#5f8bd8" stroke-width="1.2"/>
<path d="M152.2 7.5 a8 8 0 0 0 0 9" fill="none" stroke="#a9c3ee" stroke-width="1"/>
<path d="M158.6 12 v7.4 a7.4 7.4 0 0 0 5.6 -3.2" fill="none" stroke="#2f9f2f" stroke-width="1.7"/>
<circle cx="158.2" cy="11.6" r="1.7" fill="#2a5fd0"/>
<path d="M178.8 10.5 q0.5 5 5.5 8.3 l6.8 -1 q1.8 -3.5 1.2 -7.5z" fill="#f6d550" stroke="#c9a020" stroke-width="0.7"/>
<ellipse cx="184.8" cy="8.8" rx="8.1" ry="3" fill="#5fa8e6" stroke="#3a7cc4" stroke-width="0.7"/>
<path d="M180.6 8 q0.4 -4.2 4.3 -4.2 q3.8 0 4.2 4.2 q-4.2 1.6 -8.5 0z" fill="#7dbbf0" stroke="#3a7cc4" stroke-width="0.7"/>
<circle cx="189.4" cy="15.9" r="3.9" fill="#d7261c" stroke="#b8180e" stroke-width="0.5"/><rect x="187.8" y="14.3" width="3.2" height="3.2" fill="#fff"/>
<text class="cj" x="198.2" y="15.8" textLength="48.6" lengthAdjust="spacing">自动交易</text>
<rect class="crisp" x="253" y="0" width="1" height="24" fill="#a0a0a0"/>
<g class="crisp">
<rect x="257" y="2" width="3" height="1" fill="#a8a8a8"/>
<rect x="257" y="4" width="3" height="1" fill="#a8a8a8"/>
<rect x="257" y="6" width="3" height="1" fill="#a8a8a8"/>
<rect x="257" y="8" width="3" height="1" fill="#a8a8a8"/>
<rect x="257" y="10" width="3" height="1" fill="#a8a8a8"/>
<rect x="257" y="12" width="3" height="1" fill="#a8a8a8"/>
<rect x="257" y="14" width="3" height="1" fill="#a8a8a8"/>
<rect x="257" y="16" width="3" height="1" fill="#a8a8a8"/>
<rect x="257" y="18" width="3" height="1" fill="#a8a8a8"/>
<rect x="257" y="20" width="3" height="1" fill="#a8a8a8"/>
</g>
<g class="crisp" fill="none" stroke="#505050" stroke-width="1"><path d="M271.5 7.5 v12.5 M268.5 17.5 h13"/></g><path d="M271.5 6.1 l-1.7 2.4 h3.4z M282.9 17.5 l-2.4 -1.7 v3.4z" fill="#505050"/>
<path d="M278.3 7.5 v8 M278.3 8.5 h2.4 M275.6 14.8 h2.7" stroke="#14901a" stroke-width="1.5" fill="none"/>
<g class="crisp"><rect x="291" y="0" width="25" height="22" fill="#f9f9f9"/>
<rect x="291" y="0" width="1" height="22" fill="#a0a0a0"/><rect x="291" y="0" width="25" height="1" fill="#a0a0a0"/>
<rect x="315" y="0" width="1" height="22" fill="#fff"/><rect x="291" y="21" width="25" height="1" fill="#fff"/></g>
<g class="crisp" fill="none" stroke="#505050" stroke-width="1"><path d="M299.5 7.5 v12.5 M296.5 17.5 h13"/></g><path d="M299.5 6.1 l-1.7 2.4 h3.4z M310.9 17.5 l-2.4 -1.7 v3.4z" fill="#505050"/>
<path d="M305.6 4.2 v11.6" stroke="#14901a" stroke-width="1.1"/><rect x="303.4" y="6.6" width="4.4" height="7" fill="#3fd746" stroke="#0c8a12" stroke-width="0.9"/>
<g class="crisp" fill="none" stroke="#505050" stroke-width="1"><path d="M327.5 7.5 v12.5 M324.5 17.5 h13"/></g><path d="M327.5 6.1 l-1.7 2.4 h3.4z M338.9 17.5 l-2.4 -1.7 v3.4z" fill="#505050"/>
<path d="M326.5 14.5 c3 -1 4 -6 6.5 -5.5 c2 0.4 3 3 5.5 4" stroke="#14901a" stroke-width="1.4" fill="none"/>
<rect class="crisp" x="348" y="1" width="1" height="21" fill="#a0a0a0"/>
<line x1="366.7" y1="14" x2="372.2" y2="19" stroke="#c9a227" stroke-width="3" stroke-linecap="round"/><line x1="367.5" y1="13.2" x2="372.9" y2="18.2" stroke="#8a6d14" stroke-width="0.8"/><circle cx="362.7" cy="10" r="5.4" fill="url(#glens)" stroke="#3f7fd0" stroke-width="1.3"/><path d="M359.7 10 h6 M362.7 7 v6" stroke="#2c66b8" stroke-width="1.7" fill="none"/>
<line x1="395" y1="14" x2="400.5" y2="19" stroke="#c9a227" stroke-width="3" stroke-linecap="round"/><line x1="395.8" y1="13.2" x2="401.2" y2="18.2" stroke="#8a6d14" stroke-width="0.8"/><circle cx="391" cy="10" r="5.4" fill="url(#glens)" stroke="#3f7fd0" stroke-width="1.3"/><path d="M388 10 h6" stroke="#2c66b8" stroke-width="1.7" fill="none"/>
<g class="crisp"><rect x="413" y="4" width="8" height="8" fill="#3aa024"/><rect x="421" y="4" width="8" height="8" fill="#1e58c8"/><rect x="413" y="12" width="8" height="8" fill="#1e58c8"/><rect x="421" y="12" width="8" height="8" fill="#3aa024"/><rect x="414" y="7" width="6" height="4" fill="#e8f4e0"/><rect x="422" y="7" width="6" height="4" fill="#e0eaff"/><rect x="414" y="15" width="6" height="4" fill="#e0eaff"/><rect x="422" y="15" width="6" height="4" fill="#e8f4e0"/><rect x="415" y="9" width="4" height="1" fill="#7fb46a"/><rect x="423" y="9" width="4" height="1" fill="#6f93d8"/><rect x="415" y="17" width="4" height="1" fill="#6f93d8"/><rect x="423" y="17" width="4" height="1" fill="#7fb46a"/></g>
<rect class="crisp" x="438" y="1" width="1" height="21" fill="#a0a0a0"/>
<g class="crisp"><rect x="443" y="0" width="25" height="22" fill="#f9f9f9"/>
<rect x="443" y="0" width="1" height="22" fill="#a0a0a0"/><rect x="443" y="0" width="25" height="1" fill="#a0a0a0"/>
<rect x="467" y="0" width="1" height="22" fill="#fff"/><rect x="443" y="21" width="25" height="1" fill="#fff"/></g>
<g class="crisp" fill="none" stroke="#505050" stroke-width="1"><path d="M451.5 7.5 v12.5 M448.5 17.5 h13"/></g><path d="M451.5 6.1 l-1.7 2.4 h3.4z M462.9 17.5 l-2.4 -1.7 v3.4z" fill="#505050"/>
<path d="M456 7.5 l4.5 3.7 l-4.5 3.7z" fill="#35c535" stroke="#0c8a12" stroke-width="0.9"/>
<g class="crisp"><rect x="471" y="0" width="25" height="22" fill="#f9f9f9"/>
<rect x="471" y="0" width="1" height="22" fill="#a0a0a0"/><rect x="471" y="0" width="25" height="1" fill="#a0a0a0"/>
<rect x="495" y="0" width="1" height="22" fill="#fff"/><rect x="471" y="21" width="25" height="1" fill="#fff"/></g>
<g class="crisp" fill="none" stroke="#505050" stroke-width="1"><path d="M479.5 7.5 v12.5 M476.5 17.5 h13"/></g><path d="M479.5 6.1 l-1.7 2.4 h3.4z M490.9 17.5 l-2.4 -1.7 v3.4z" fill="#505050"/>
<path d="M485.5 6 v10" stroke="#1f6fc0" stroke-width="1.4"/><path d="M491 11.5 h-4.5 m2 -2 l-2.4 2 l2.4 2" stroke="#d03010" stroke-width="1.2" fill="none"/>
<rect class="crisp" x="500" y="1" width="1" height="21" fill="#a0a0a0"/>
<path d="M510.5 5 h8 l3 3 v9.5 h-11z" fill="#fcfcfc" stroke="#8a8a8a" stroke-width="1"/>
<path d="M513.5 14 c0 -7 3 -7 2.6 -1 M512.5 10.5 h4" stroke="#707070" stroke-width="0.9" fill="none"/>
<path d="M518.4333333333334 10.3 h3.733333333333333 v3.733333333333333 h3.733333333333333 v3.733333333333333 h-3.733333333333333 v3.733333333333333 h-3.733333333333333 v-3.733333333333333 h-3.733333333333333 v-3.733333333333333 h3.733333333333333 z" fill="url(#gplus)" stroke="#0a8a12" stroke-width="0.9"/>
<polygon class="crisp" points="532,11 537,11 534.5,14" fill="#000"/>
<circle cx="556" cy="11.7" r="6.7" fill="#fdfdfd" stroke="#2a72dc" stroke-width="2.3"/>
<circle cx="556" cy="11.7" r="7.9" fill="none" stroke="#1a4fa8" stroke-width="0.5"/>
<path d="M556 7.3 v4.6 h3" stroke="#333" stroke-width="1.1" fill="none"/>
<g fill="#9aa4b8"><rect x="555.5" y="6" width="1" height="1"/><rect x="555.5" y="16.4" width="1" height="1"/><rect x="550.6" y="11.2" width="1" height="1"/><rect x="560.6" y="11.2" width="1" height="1"/></g>
<polygon class="crisp" points="571,11 576,11 573.5,14" fill="#000"/>
<rect x="587.5" y="5.5" width="15" height="13" fill="#fff" stroke="#2a64c8" stroke-width="1.2"/><rect x="587" y="5" width="16" height="2.5" fill="#3f86e6"/>
<path d="M589 12 l3 -1.5 l2 0.8 l3 -1.8 l3.5 -0.5" stroke="#b03020" stroke-width="1.2" fill="none"/>
<path d="M589 16.5 l3 -1 l2 0.6 l3.2 -2.1 l2.8 2" stroke="#1e9a28" stroke-width="1.2" fill="none"/>
<polygon class="crisp" points="610,11 615,11 612.5,14" fill="#000"/>
<rect class="crisp" x="621" y="0" width="1" height="24" fill="#a0a0a0"/>
<g class="crisp">
<rect x="625" y="2" width="3" height="1" fill="#a8a8a8"/>
<rect x="625" y="4" width="3" height="1" fill="#a8a8a8"/>
<rect x="625" y="6" width="3" height="1" fill="#a8a8a8"/>
<rect x="625" y="8" width="3" height="1" fill="#a8a8a8"/>
<rect x="625" y="10" width="3" height="1" fill="#a8a8a8"/>
<rect x="625" y="12" width="3" height="1" fill="#a8a8a8"/>
<rect x="625" y="14" width="3" height="1" fill="#a8a8a8"/>
<rect x="625" y="16" width="3" height="1" fill="#a8a8a8"/>
<rect x="625" y="18" width="3" height="1" fill="#a8a8a8"/>
<rect x="625" y="20" width="3" height="1" fill="#a8a8a8"/>
</g>
<g class="crisp"><rect x="631" y="0" width="25" height="22" fill="#f9f9f9"/>
<rect x="631" y="0" width="1" height="22" fill="#a0a0a0"/><rect x="631" y="0" width="25" height="1" fill="#a0a0a0"/>
<rect x="655" y="0" width="1" height="22" fill="#fff"/><rect x="631" y="21" width="25" height="1" fill="#fff"/></g>
<path d="M639 5 v12.3 l3 -2.8 l2.2 4.7 l2 -0.9 l-2.2 -4.6 l4 -0.2z" fill="#454545"/>
<path class="crisp" d="M671.5 5 v5 M671.5 14 v5.5 M664 12.5 h5.5 M673.5 12.5 h5.5" stroke="#454545" stroke-width="1" fill="none"/><rect class="crisp" x="671" y="12" width="1" height="1" fill="#454545"/>
<rect class="crisp" x="688" y="1" width="1" height="21" fill="#a0a0a0"/>
<rect class="crisp" x="705" y="6" width="1" height="13" fill="#454545"/>
<rect class="crisp" x="728" y="12" width="12" height="1" fill="#454545"/>
<path d="M755.7 18.8 L768 7" stroke="#454545" stroke-width="1.1"/>
<path d="M782.5 14 l11 -8.5 M784.5 18.5 l11 -8.5 M783.5 16.2 l11 -8.5" stroke="#555" stroke-width="0.9"/><path d="M786 10.5 l1.5 7 M790 7.5 l1.5 7 M793.5 5 l1.3 6" stroke="#555" stroke-width="0.9"/>
<text x="792.4" y="20.6" style="font-size:6.5px;font-weight:bold;fill:#333">E</text>
<g class="crisp" stroke="#555" stroke-width="1" stroke-dasharray="1 1"><path d="M811 5.5 h13 M811 8.5 h13 M811 12.5 h13 M811 16.5 h9"/></g>
<text x="820.8" y="20.6" style="font-size:6.5px;font-weight:bold;fill:#333">F</text>
<text x="841.5" y="16.6" style="font-size:11.5px;font-weight:bold;fill:#5a5a5a">A</text>
<rect class="crisp" x="868.5" y="6.5" width="11" height="12" fill="none" stroke="#555" stroke-width="1" stroke-dasharray="1 1"/>
<text x="870.3" y="16.6" style="font-size:10.5px;font-weight:bold;fill:#5a5a5a">T</text>
<path d="M898.5 5.8 l2.8 2.8 l-2.8 2.8 l-2.8 -2.8z" fill="#454545"/><path d="M905.8 13.2 l3.2 2.8 l-3.2 2.8 l-3.2 -2.8z" fill="#454545"/><path d="M897.3 12.2 l2.6 2.8 l4.4 -5.6" stroke="#454545" stroke-width="1.3" fill="none"/>
<polygon class="crisp" points="916,11 921,11 918.5,14" fill="#000"/>
<rect class="crisp" x="927" y="0" width="1" height="24" fill="#a0a0a0"/>
<g class="crisp">
<rect x="931" y="2" width="3" height="1" fill="#a8a8a8"/>
<rect x="931" y="4" width="3" height="1" fill="#a8a8a8"/>
<rect x="931" y="6" width="3" height="1" fill="#a8a8a8"/>
<rect x="931" y="8" width="3" height="1" fill="#a8a8a8"/>
<rect x="931" y="10" width="3" height="1" fill="#a8a8a8"/>
<rect x="931" y="12" width="3" height="1" fill="#a8a8a8"/>
<rect x="931" y="14" width="3" height="1" fill="#a8a8a8"/>
<rect x="931" y="16" width="3" height="1" fill="#a8a8a8"/>
<rect x="931" y="18" width="3" height="1" fill="#a8a8a8"/>
<rect x="931" y="20" width="3" height="1" fill="#a8a8a8"/>
</g>
<g class="crisp"><rect x="1077" y="0" width="25" height="22" fill="#f9f9f9"/>
<rect x="1077" y="0" width="1" height="22" fill="#a0a0a0"/><rect x="1077" y="0" width="25" height="1" fill="#a0a0a0"/>
<rect x="1101" y="0" width="1" height="22" fill="#fff"/><rect x="1077" y="21" width="25" height="1" fill="#fff"/></g>
<text class="tf" x="942.7" y="16" textLength="12.3" lengthAdjust="spacingAndGlyphs">M1</text>
<text class="tf" x="970.9" y="16" textLength="12.3" lengthAdjust="spacingAndGlyphs">M5</text>
<text class="tf" x="996.8" y="16" textLength="17.2" lengthAdjust="spacingAndGlyphs">M15</text>
<text class="tf" x="1024.5" y="16" textLength="17.9" lengthAdjust="spacingAndGlyphs">M30</text>
<text class="tf" x="1055.7" y="16" textLength="11.3" lengthAdjust="spacingAndGlyphs">H1</text>
<text class="tf" x="1082.5" y="16" textLength="12.3" lengthAdjust="spacingAndGlyphs">H4</text>
<text class="tf" x="1111.5" y="16" textLength="11.7" lengthAdjust="spacingAndGlyphs">D1</text>
<text class="tf" x="1139.2" y="16" textLength="13.6" lengthAdjust="spacingAndGlyphs">W1</text>
<text class="tf" x="1165.7" y="16" textLength="14.2" lengthAdjust="spacingAndGlyphs">MN</text>
<rect class="crisp" x="1188" y="0" width="1" height="24" fill="#a0a0a0"/>
<circle cx="1658.6" cy="9.7" r="4.2" fill="#fff" stroke="#2756d0" stroke-width="1.3"/>
<line x1="1655.4" y1="12.9" x2="1651" y2="16.8" stroke="#2756d0" stroke-width="2.6" stroke-linecap="round"/>
<path d="M1675.5 14.5 a4.8 3.4 0 1 1 4.4 3.3 l-1.5 2.8 l-0.6 -3.1 a4.6 3.3 0 0 1 -2.3 -3z" fill="#e4e6ee" stroke="#a9adb8" stroke-width="0.8"/>
<circle cx="1689.6" cy="9.4" r="8.2" fill="url(#gbadge)"/>
<text x="1689.6" y="14" text-anchor="middle" style="font-size:12.5px;fill:#fff">1</text>
</svg></body></html>
